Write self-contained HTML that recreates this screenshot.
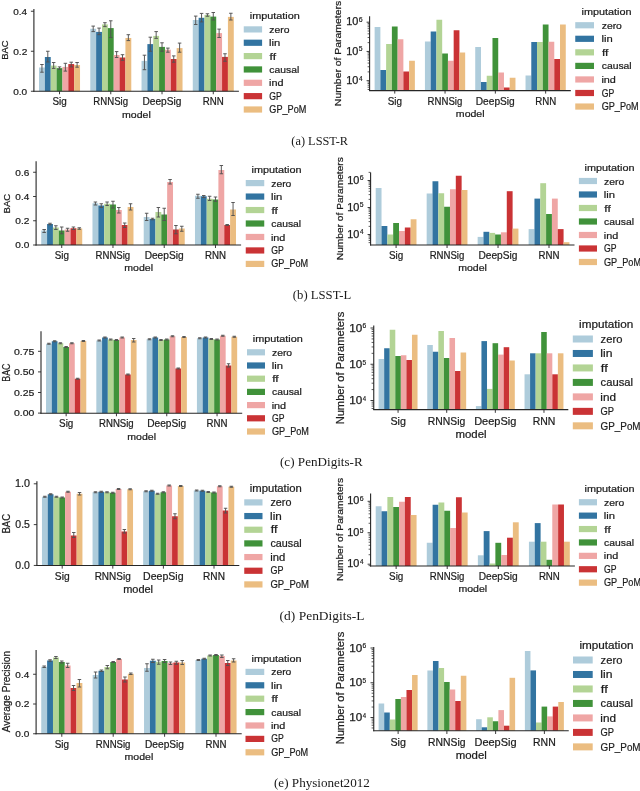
<!DOCTYPE html><html><head><meta charset="utf-8"><style>html,body{margin:0;padding:0;background:#fff;}svg{display:block;will-change:transform;}</style></head><body>
<svg width="640" height="791" viewBox="0 0 640 791">
<rect width="640" height="791" fill="#fff"/>
<rect x="39.02" y="67.50" width="5.86" height="23.75" fill="#aeccdb"/>
<rect x="44.88" y="57.00" width="5.86" height="34.25" fill="#3274a1"/>
<rect x="50.74" y="65.60" width="5.86" height="25.65" fill="#b3d495"/>
<rect x="56.60" y="68.10" width="5.86" height="23.15" fill="#40923a"/>
<rect x="62.45" y="66.90" width="5.86" height="24.35" fill="#efa6a5"/>
<rect x="68.31" y="64.06" width="5.86" height="27.19" fill="#ca3335"/>
<rect x="74.17" y="65.00" width="5.86" height="26.25" fill="#ebbd81"/>
<rect x="90.28" y="28.75" width="5.86" height="62.50" fill="#aeccdb"/>
<rect x="96.13" y="31.90" width="5.86" height="59.35" fill="#3274a1"/>
<rect x="101.99" y="24.40" width="5.86" height="66.85" fill="#b3d495"/>
<rect x="107.85" y="28.10" width="5.86" height="63.15" fill="#40923a"/>
<rect x="113.70" y="55.00" width="5.86" height="36.25" fill="#efa6a5"/>
<rect x="119.56" y="57.50" width="5.86" height="33.75" fill="#ca3335"/>
<rect x="125.42" y="38.00" width="5.86" height="53.25" fill="#ebbd81"/>
<rect x="141.53" y="60.90" width="5.86" height="30.35" fill="#aeccdb"/>
<rect x="147.38" y="44.10" width="5.86" height="47.15" fill="#3274a1"/>
<rect x="153.24" y="35.90" width="5.86" height="55.35" fill="#b3d495"/>
<rect x="159.10" y="46.90" width="5.86" height="44.35" fill="#40923a"/>
<rect x="164.95" y="49.70" width="5.86" height="41.55" fill="#efa6a5"/>
<rect x="170.81" y="59.00" width="5.86" height="32.25" fill="#ca3335"/>
<rect x="176.67" y="48.10" width="5.86" height="43.15" fill="#ebbd81"/>
<rect x="192.78" y="20.00" width="5.86" height="71.25" fill="#aeccdb"/>
<rect x="198.63" y="17.80" width="5.86" height="73.45" fill="#3274a1"/>
<rect x="204.49" y="15.00" width="5.86" height="76.25" fill="#b3d495"/>
<rect x="210.35" y="16.60" width="5.86" height="74.65" fill="#40923a"/>
<rect x="216.20" y="33.10" width="5.86" height="58.15" fill="#efa6a5"/>
<rect x="222.06" y="56.90" width="5.86" height="34.35" fill="#ca3335"/>
<rect x="227.92" y="16.90" width="5.86" height="74.35" fill="#ebbd81"/>
<path d="M41.95,64.50V72.20M40.20,64.50H43.71M40.20,72.20H43.71" stroke="#525252" stroke-width="0.95" fill="none"/>
<path d="M47.81,51.25V62.00M46.05,51.25H49.57M46.05,62.00H49.57" stroke="#525252" stroke-width="0.95" fill="none"/>
<path d="M53.67,62.50V68.40M51.91,62.50H55.43M51.91,68.40H55.43" stroke="#525252" stroke-width="0.95" fill="none"/>
<path d="M59.52,66.90V69.50M57.77,66.90H61.28M57.77,69.50H61.28" stroke="#525252" stroke-width="0.95" fill="none"/>
<path d="M65.38,63.30V71.10M63.62,63.30H67.14M63.62,71.10H67.14" stroke="#525252" stroke-width="0.95" fill="none"/>
<path d="M71.24,62.20V66.90M69.48,62.20H73.00M69.48,66.90H73.00" stroke="#525252" stroke-width="0.95" fill="none"/>
<path d="M77.10,62.50V67.20M75.34,62.50H78.85M75.34,67.20H78.85" stroke="#525252" stroke-width="0.95" fill="none"/>
<path d="M93.20,26.10V31.60M91.45,26.10H94.96M91.45,31.60H94.96" stroke="#525252" stroke-width="0.95" fill="none"/>
<path d="M99.06,28.10V34.70M97.30,28.10H100.82M97.30,34.70H100.82" stroke="#525252" stroke-width="0.95" fill="none"/>
<path d="M104.92,22.70V26.60M103.16,22.70H106.67M103.16,26.60H106.67" stroke="#525252" stroke-width="0.95" fill="none"/>
<path d="M110.78,20.80V37.50M109.02,20.80H112.53M109.02,37.50H112.53" stroke="#525252" stroke-width="0.95" fill="none"/>
<path d="M116.63,51.60V57.50M114.88,51.60H118.39M114.88,57.50H118.39" stroke="#525252" stroke-width="0.95" fill="none"/>
<path d="M122.49,54.70V60.30M120.73,54.70H124.25M120.73,60.30H124.25" stroke="#525252" stroke-width="0.95" fill="none"/>
<path d="M128.35,34.70V40.60M126.59,34.70H130.10M126.59,40.60H130.10" stroke="#525252" stroke-width="0.95" fill="none"/>
<path d="M144.45,55.20V69.70M142.70,55.20H146.21M142.70,69.70H146.21" stroke="#525252" stroke-width="0.95" fill="none"/>
<path d="M150.31,37.20V51.25M148.55,37.20H152.07M148.55,51.25H152.07" stroke="#525252" stroke-width="0.95" fill="none"/>
<path d="M156.17,31.60V38.40M154.41,31.60H157.93M154.41,38.40H157.93" stroke="#525252" stroke-width="0.95" fill="none"/>
<path d="M162.03,42.80V51.25M160.27,42.80H163.78M160.27,51.25H163.78" stroke="#525252" stroke-width="0.95" fill="none"/>
<path d="M167.88,48.10V52.20M166.12,48.10H169.64M166.12,52.20H169.64" stroke="#525252" stroke-width="0.95" fill="none"/>
<path d="M173.74,55.90V62.20M171.98,55.90H175.50M171.98,62.20H175.50" stroke="#525252" stroke-width="0.95" fill="none"/>
<path d="M179.60,43.10V52.20M177.84,43.10H181.35M177.84,52.20H181.35" stroke="#525252" stroke-width="0.95" fill="none"/>
<path d="M195.70,16.10V24.50M193.95,16.10H197.46M193.95,24.50H197.46" stroke="#525252" stroke-width="0.95" fill="none"/>
<path d="M201.56,13.40V21.90M199.80,13.40H203.32M199.80,21.90H203.32" stroke="#525252" stroke-width="0.95" fill="none"/>
<path d="M207.42,13.75V16.25M205.66,13.75H209.18M205.66,16.25H209.18" stroke="#525252" stroke-width="0.95" fill="none"/>
<path d="M213.28,12.50V20.00M211.52,12.50H215.03M211.52,20.00H215.03" stroke="#525252" stroke-width="0.95" fill="none"/>
<path d="M219.13,29.10V37.50M217.38,29.10H220.89M217.38,37.50H220.89" stroke="#525252" stroke-width="0.95" fill="none"/>
<path d="M224.99,53.75V61.25M223.23,53.75H226.75M223.23,61.25H226.75" stroke="#525252" stroke-width="0.95" fill="none"/>
<path d="M230.85,13.25V20.00M229.09,13.25H232.60M229.09,20.00H232.60" stroke="#525252" stroke-width="0.95" fill="none"/>
<line x1="33.90" y1="8.90" x2="33.90" y2="91.75" stroke="#262626" stroke-width="1.1"/>
<line x1="33.40" y1="91.25" x2="238.90" y2="91.25" stroke="#262626" stroke-width="1.1"/>
<line x1="59.52" y1="91.25" x2="59.52" y2="94.25" stroke="#262626" stroke-width="0.9"/>
<text x="52.47" y="105.25" font-size="10.0" textLength="14.26" lengthAdjust="spacingAndGlyphs" style="font-family:&quot;Liberation Sans&quot;, sans-serif" fill="#1c1c1c" stroke="#1c1c1c" stroke-width="0.22">Sig</text>
<line x1="110.78" y1="91.25" x2="110.78" y2="94.25" stroke="#262626" stroke-width="0.9"/>
<text x="93.34" y="105.25" font-size="10.0" textLength="34.69" lengthAdjust="spacingAndGlyphs" style="font-family:&quot;Liberation Sans&quot;, sans-serif" fill="#1c1c1c" stroke="#1c1c1c" stroke-width="0.22">RNNSig</text>
<line x1="162.03" y1="91.25" x2="162.03" y2="94.25" stroke="#262626" stroke-width="0.9"/>
<text x="142.45" y="105.25" font-size="10.0" textLength="38.96" lengthAdjust="spacingAndGlyphs" style="font-family:&quot;Liberation Sans&quot;, sans-serif" fill="#1c1c1c" stroke="#1c1c1c" stroke-width="0.22">DeepSig</text>
<line x1="213.28" y1="91.25" x2="213.28" y2="94.25" stroke="#262626" stroke-width="0.9"/>
<text x="202.79" y="105.25" font-size="10.0" textLength="20.99" lengthAdjust="spacingAndGlyphs" style="font-family:&quot;Liberation Sans&quot;, sans-serif" fill="#1c1c1c" stroke="#1c1c1c" stroke-width="0.22">RNN</text>
<text x="122.05" y="117.65" font-size="9.8" textLength="28.74" lengthAdjust="spacingAndGlyphs" style="font-family:&quot;Liberation Sans&quot;, sans-serif" fill="#1c1c1c" stroke="#1c1c1c" stroke-width="0.22">model</text>
<line x1="30.90" y1="91.25" x2="33.90" y2="91.25" stroke="#262626" stroke-width="0.9"/>
<text x="13.19" y="94.55" font-size="9.8" textLength="13.98" lengthAdjust="spacingAndGlyphs" style="font-family:&quot;Liberation Sans&quot;, sans-serif" fill="#1c1c1c" stroke="#1c1c1c" stroke-width="0.22">0.0</text>
<line x1="30.90" y1="51.25" x2="33.90" y2="51.25" stroke="#262626" stroke-width="0.9"/>
<text x="13.18" y="54.55" font-size="9.8" textLength="14.14" lengthAdjust="spacingAndGlyphs" style="font-family:&quot;Liberation Sans&quot;, sans-serif" fill="#1c1c1c" stroke="#1c1c1c" stroke-width="0.22">0.2</text>
<line x1="30.90" y1="11.25" x2="33.90" y2="11.25" stroke="#262626" stroke-width="0.9"/>
<text x="13.19" y="14.55" font-size="9.8" textLength="13.87" lengthAdjust="spacingAndGlyphs" style="font-family:&quot;Liberation Sans&quot;, sans-serif" fill="#1c1c1c" stroke="#1c1c1c" stroke-width="0.22">0.4</text>
<g transform="translate(7.50,59.00) rotate(-90)">
<text x="-0.75" y="0" font-size="9.6" textLength="19.29" lengthAdjust="spacingAndGlyphs" style="font-family:&quot;Liberation Sans&quot;, sans-serif" fill="#1c1c1c" stroke="#1c1c1c" stroke-width="0.22">BAC</text>
</g>
<text x="249.78" y="19.40" font-size="9.8" textLength="50.07" lengthAdjust="spacingAndGlyphs" style="font-family:&quot;Liberation Sans&quot;, sans-serif" fill="#1c1c1c" stroke="#1c1c1c" stroke-width="0.22">imputation</text>
<rect x="243.75" y="26.30" width="18.35" height="6.20" fill="#aeccdb"/>
<text x="269.37" y="32.95" font-size="9.8" textLength="20.16" lengthAdjust="spacingAndGlyphs" style="font-family:&quot;Liberation Sans&quot;, sans-serif" fill="#1c1c1c" stroke="#1c1c1c" stroke-width="0.22">zero</text>
<rect x="243.75" y="39.65" width="18.35" height="6.20" fill="#3274a1"/>
<text x="269.06" y="46.30" font-size="9.8" textLength="11.23" lengthAdjust="spacingAndGlyphs" style="font-family:&quot;Liberation Sans&quot;, sans-serif" fill="#1c1c1c" stroke="#1c1c1c" stroke-width="0.22">lin</text>
<rect x="243.75" y="53.00" width="18.35" height="6.20" fill="#b3d495"/>
<text x="269.61" y="59.65" font-size="9.8" textLength="6.48" lengthAdjust="spacingAndGlyphs" style="font-family:&quot;Liberation Sans&quot;, sans-serif" fill="#1c1c1c" stroke="#1c1c1c" stroke-width="0.22">ff</text>
<rect x="243.75" y="66.35" width="18.35" height="6.20" fill="#40923a"/>
<text x="269.37" y="73.00" font-size="9.8" textLength="29.92" lengthAdjust="spacingAndGlyphs" style="font-family:&quot;Liberation Sans&quot;, sans-serif" fill="#1c1c1c" stroke="#1c1c1c" stroke-width="0.22">causal</text>
<rect x="243.75" y="79.70" width="18.35" height="6.20" fill="#efa6a5"/>
<text x="269.08" y="86.35" font-size="9.8" textLength="14.47" lengthAdjust="spacingAndGlyphs" style="font-family:&quot;Liberation Sans&quot;, sans-serif" fill="#1c1c1c" stroke="#1c1c1c" stroke-width="0.22">ind</text>
<rect x="243.75" y="93.05" width="18.35" height="6.20" fill="#ca3335"/>
<text x="269.36" y="99.70" font-size="10.4" textLength="12.49" lengthAdjust="spacingAndGlyphs" style="font-family:&quot;Liberation Sans&quot;, sans-serif" fill="#1c1c1c" stroke="#1c1c1c" stroke-width="0.22">GP</text>
<rect x="243.75" y="106.40" width="18.35" height="6.20" fill="#ebbd81"/>
<text x="269.33" y="113.05" font-size="10.4" textLength="37.03" lengthAdjust="spacingAndGlyphs" style="font-family:&quot;Liberation Sans&quot;, sans-serif" fill="#1c1c1c" stroke="#1c1c1c" stroke-width="0.22">GP_PoM</text>
<rect x="374.63" y="27.00" width="5.75" height="63.60" fill="#aeccdb"/>
<rect x="380.38" y="70.00" width="5.75" height="20.60" fill="#3274a1"/>
<rect x="386.13" y="44.00" width="5.75" height="46.60" fill="#b3d495"/>
<rect x="391.88" y="26.50" width="5.75" height="64.10" fill="#40923a"/>
<rect x="397.62" y="39.25" width="5.75" height="51.35" fill="#efa6a5"/>
<rect x="403.37" y="71.50" width="5.75" height="19.10" fill="#ca3335"/>
<rect x="409.12" y="60.75" width="5.75" height="29.85" fill="#ebbd81"/>
<rect x="424.93" y="41.50" width="5.75" height="49.10" fill="#aeccdb"/>
<rect x="430.68" y="31.50" width="5.75" height="59.10" fill="#3274a1"/>
<rect x="436.43" y="19.75" width="5.75" height="70.85" fill="#b3d495"/>
<rect x="442.18" y="53.50" width="5.75" height="37.10" fill="#40923a"/>
<rect x="447.92" y="60.75" width="5.75" height="29.85" fill="#efa6a5"/>
<rect x="453.67" y="30.25" width="5.75" height="60.35" fill="#ca3335"/>
<rect x="459.42" y="52.50" width="5.75" height="38.10" fill="#ebbd81"/>
<rect x="475.23" y="47.00" width="5.75" height="43.60" fill="#aeccdb"/>
<rect x="480.98" y="82.00" width="5.75" height="8.60" fill="#3274a1"/>
<rect x="486.73" y="75.75" width="5.75" height="14.85" fill="#b3d495"/>
<rect x="492.48" y="38.00" width="5.75" height="52.60" fill="#40923a"/>
<rect x="498.22" y="72.50" width="5.75" height="18.10" fill="#efa6a5"/>
<rect x="503.97" y="87.50" width="5.75" height="3.10" fill="#ca3335"/>
<rect x="509.72" y="77.75" width="5.75" height="12.85" fill="#ebbd81"/>
<rect x="525.53" y="75.50" width="5.75" height="15.10" fill="#aeccdb"/>
<rect x="531.28" y="42.00" width="5.75" height="48.60" fill="#3274a1"/>
<rect x="537.03" y="42.00" width="5.75" height="48.60" fill="#b3d495"/>
<rect x="542.78" y="24.50" width="5.75" height="66.10" fill="#40923a"/>
<rect x="548.52" y="41.75" width="5.75" height="48.85" fill="#efa6a5"/>
<rect x="554.27" y="59.00" width="5.75" height="31.60" fill="#ca3335"/>
<rect x="560.02" y="24.50" width="5.75" height="66.10" fill="#ebbd81"/>
<line x1="369.60" y1="16.20" x2="369.60" y2="91.10" stroke="#262626" stroke-width="1.1"/>
<line x1="369.10" y1="90.60" x2="570.80" y2="90.60" stroke="#262626" stroke-width="1.1"/>
<line x1="394.75" y1="90.60" x2="394.75" y2="93.60" stroke="#262626" stroke-width="0.9"/>
<text x="387.69" y="104.60" font-size="10.0" textLength="14.26" lengthAdjust="spacingAndGlyphs" style="font-family:&quot;Liberation Sans&quot;, sans-serif" fill="#1c1c1c" stroke="#1c1c1c" stroke-width="0.22">Sig</text>
<line x1="445.05" y1="90.60" x2="445.05" y2="93.60" stroke="#262626" stroke-width="0.9"/>
<text x="427.62" y="104.60" font-size="10.0" textLength="34.69" lengthAdjust="spacingAndGlyphs" style="font-family:&quot;Liberation Sans&quot;, sans-serif" fill="#1c1c1c" stroke="#1c1c1c" stroke-width="0.22">RNNSig</text>
<line x1="495.35" y1="90.60" x2="495.35" y2="93.60" stroke="#262626" stroke-width="0.9"/>
<text x="475.78" y="104.60" font-size="10.0" textLength="38.96" lengthAdjust="spacingAndGlyphs" style="font-family:&quot;Liberation Sans&quot;, sans-serif" fill="#1c1c1c" stroke="#1c1c1c" stroke-width="0.22">DeepSig</text>
<line x1="545.65" y1="90.60" x2="545.65" y2="93.60" stroke="#262626" stroke-width="0.9"/>
<text x="535.16" y="104.60" font-size="10.0" textLength="20.99" lengthAdjust="spacingAndGlyphs" style="font-family:&quot;Liberation Sans&quot;, sans-serif" fill="#1c1c1c" stroke="#1c1c1c" stroke-width="0.22">RNN</text>
<text x="455.85" y="117.00" font-size="9.8" textLength="28.74" lengthAdjust="spacingAndGlyphs" style="font-family:&quot;Liberation Sans&quot;, sans-serif" fill="#1c1c1c" stroke="#1c1c1c" stroke-width="0.22">model</text>
<line x1="367.60" y1="89.51" x2="369.60" y2="89.51" stroke="#262626" stroke-width="0.75"/>
<line x1="367.60" y1="87.19" x2="369.60" y2="87.19" stroke="#262626" stroke-width="0.75"/>
<line x1="367.60" y1="85.23" x2="369.60" y2="85.23" stroke="#262626" stroke-width="0.75"/>
<line x1="367.60" y1="83.53" x2="369.60" y2="83.53" stroke="#262626" stroke-width="0.75"/>
<line x1="367.60" y1="82.04" x2="369.60" y2="82.04" stroke="#262626" stroke-width="0.75"/>
<line x1="366.60" y1="80.70" x2="369.60" y2="80.70" stroke="#262626" stroke-width="0.9"/>
<text x="346.28" y="83.75" font-size="10.3" textLength="12.12" lengthAdjust="spacingAndGlyphs" style="font-family:&quot;Liberation Sans&quot;, sans-serif" fill="#1c1c1c" stroke="#1c1c1c" stroke-width="0.25">10</text>
<text x="358.95" y="80.60" font-size="7.0" textLength="3.53" lengthAdjust="spacingAndGlyphs" style="font-family:&quot;Liberation Sans&quot;, sans-serif" fill="#1c1c1c" stroke="#1c1c1c" stroke-width="0.2">4</text>
<line x1="367.60" y1="71.89" x2="369.60" y2="71.89" stroke="#262626" stroke-width="0.75"/>
<line x1="367.60" y1="66.74" x2="369.60" y2="66.74" stroke="#262626" stroke-width="0.75"/>
<line x1="367.60" y1="63.09" x2="369.60" y2="63.09" stroke="#262626" stroke-width="0.75"/>
<line x1="367.60" y1="60.26" x2="369.60" y2="60.26" stroke="#262626" stroke-width="0.75"/>
<line x1="367.60" y1="57.94" x2="369.60" y2="57.94" stroke="#262626" stroke-width="0.75"/>
<line x1="367.60" y1="55.98" x2="369.60" y2="55.98" stroke="#262626" stroke-width="0.75"/>
<line x1="367.60" y1="54.28" x2="369.60" y2="54.28" stroke="#262626" stroke-width="0.75"/>
<line x1="367.60" y1="52.79" x2="369.60" y2="52.79" stroke="#262626" stroke-width="0.75"/>
<line x1="366.60" y1="51.45" x2="369.60" y2="51.45" stroke="#262626" stroke-width="0.9"/>
<text x="346.28" y="54.50" font-size="10.3" textLength="12.12" lengthAdjust="spacingAndGlyphs" style="font-family:&quot;Liberation Sans&quot;, sans-serif" fill="#1c1c1c" stroke="#1c1c1c" stroke-width="0.25">10</text>
<text x="358.81" y="51.35" font-size="7.0" textLength="3.79" lengthAdjust="spacingAndGlyphs" style="font-family:&quot;Liberation Sans&quot;, sans-serif" fill="#1c1c1c" stroke="#1c1c1c" stroke-width="0.2">5</text>
<line x1="367.60" y1="42.64" x2="369.60" y2="42.64" stroke="#262626" stroke-width="0.75"/>
<line x1="367.60" y1="37.49" x2="369.60" y2="37.49" stroke="#262626" stroke-width="0.75"/>
<line x1="367.60" y1="33.84" x2="369.60" y2="33.84" stroke="#262626" stroke-width="0.75"/>
<line x1="367.60" y1="31.01" x2="369.60" y2="31.01" stroke="#262626" stroke-width="0.75"/>
<line x1="367.60" y1="28.69" x2="369.60" y2="28.69" stroke="#262626" stroke-width="0.75"/>
<line x1="367.60" y1="26.73" x2="369.60" y2="26.73" stroke="#262626" stroke-width="0.75"/>
<line x1="367.60" y1="25.03" x2="369.60" y2="25.03" stroke="#262626" stroke-width="0.75"/>
<line x1="367.60" y1="23.54" x2="369.60" y2="23.54" stroke="#262626" stroke-width="0.75"/>
<line x1="366.60" y1="22.20" x2="369.60" y2="22.20" stroke="#262626" stroke-width="0.9"/>
<text x="346.28" y="25.25" font-size="10.3" textLength="12.12" lengthAdjust="spacingAndGlyphs" style="font-family:&quot;Liberation Sans&quot;, sans-serif" fill="#1c1c1c" stroke="#1c1c1c" stroke-width="0.25">10</text>
<text x="358.73" y="22.10" font-size="7.0" textLength="3.88" lengthAdjust="spacingAndGlyphs" style="font-family:&quot;Liberation Sans&quot;, sans-serif" fill="#1c1c1c" stroke="#1c1c1c" stroke-width="0.2">6</text>
<g transform="translate(341.00,105.30) rotate(-90)">
<text x="-0.83" y="0" font-size="9.8" textLength="105.30" lengthAdjust="spacingAndGlyphs" style="font-family:&quot;Liberation Sans&quot;, sans-serif" fill="#1c1c1c" stroke="#1c1c1c" stroke-width="0.22">Number of Parameters</text>
</g>
<text x="581.53" y="14.50" font-size="9.8" textLength="50.07" lengthAdjust="spacingAndGlyphs" style="font-family:&quot;Liberation Sans&quot;, sans-serif" fill="#1c1c1c" stroke="#1c1c1c" stroke-width="0.22">imputation</text>
<rect x="575.25" y="22.15" width="18.75" height="6.20" fill="#aeccdb"/>
<text x="601.72" y="28.80" font-size="9.8" textLength="20.16" lengthAdjust="spacingAndGlyphs" style="font-family:&quot;Liberation Sans&quot;, sans-serif" fill="#1c1c1c" stroke="#1c1c1c" stroke-width="0.22">zero</text>
<rect x="575.25" y="35.70" width="18.75" height="6.20" fill="#3274a1"/>
<text x="601.41" y="42.35" font-size="9.8" textLength="11.23" lengthAdjust="spacingAndGlyphs" style="font-family:&quot;Liberation Sans&quot;, sans-serif" fill="#1c1c1c" stroke="#1c1c1c" stroke-width="0.22">lin</text>
<rect x="575.25" y="49.25" width="18.75" height="6.20" fill="#b3d495"/>
<text x="601.96" y="55.90" font-size="9.8" textLength="6.48" lengthAdjust="spacingAndGlyphs" style="font-family:&quot;Liberation Sans&quot;, sans-serif" fill="#1c1c1c" stroke="#1c1c1c" stroke-width="0.22">ff</text>
<rect x="575.25" y="62.80" width="18.75" height="6.20" fill="#40923a"/>
<text x="601.72" y="69.45" font-size="9.8" textLength="29.92" lengthAdjust="spacingAndGlyphs" style="font-family:&quot;Liberation Sans&quot;, sans-serif" fill="#1c1c1c" stroke="#1c1c1c" stroke-width="0.22">causal</text>
<rect x="575.25" y="76.35" width="18.75" height="6.20" fill="#efa6a5"/>
<text x="601.43" y="83.00" font-size="9.8" textLength="14.47" lengthAdjust="spacingAndGlyphs" style="font-family:&quot;Liberation Sans&quot;, sans-serif" fill="#1c1c1c" stroke="#1c1c1c" stroke-width="0.22">ind</text>
<rect x="575.25" y="89.90" width="18.75" height="6.20" fill="#ca3335"/>
<text x="601.71" y="96.55" font-size="10.4" textLength="12.49" lengthAdjust="spacingAndGlyphs" style="font-family:&quot;Liberation Sans&quot;, sans-serif" fill="#1c1c1c" stroke="#1c1c1c" stroke-width="0.22">GP</text>
<rect x="575.25" y="103.45" width="18.75" height="6.20" fill="#ebbd81"/>
<text x="601.68" y="110.10" font-size="10.4" textLength="37.03" lengthAdjust="spacingAndGlyphs" style="font-family:&quot;Liberation Sans&quot;, sans-serif" fill="#1c1c1c" stroke="#1c1c1c" stroke-width="0.22">GP_PoM</text>
<rect x="41.23" y="230.50" width="5.86" height="14.50" fill="#aeccdb"/>
<rect x="47.08" y="224.00" width="5.86" height="21.00" fill="#3274a1"/>
<rect x="52.94" y="227.50" width="5.86" height="17.50" fill="#b3d495"/>
<rect x="58.80" y="230.50" width="5.86" height="14.50" fill="#40923a"/>
<rect x="64.65" y="229.50" width="5.86" height="15.50" fill="#efa6a5"/>
<rect x="70.51" y="228.25" width="5.86" height="16.75" fill="#ca3335"/>
<rect x="76.37" y="228.50" width="5.86" height="16.50" fill="#ebbd81"/>
<rect x="92.47" y="203.25" width="5.86" height="41.75" fill="#aeccdb"/>
<rect x="98.33" y="205.50" width="5.86" height="39.50" fill="#3274a1"/>
<rect x="104.19" y="203.75" width="5.86" height="41.25" fill="#b3d495"/>
<rect x="110.05" y="204.50" width="5.86" height="40.50" fill="#40923a"/>
<rect x="115.90" y="210.00" width="5.86" height="35.00" fill="#efa6a5"/>
<rect x="121.76" y="225.00" width="5.86" height="20.00" fill="#ca3335"/>
<rect x="127.62" y="207.00" width="5.86" height="38.00" fill="#ebbd81"/>
<rect x="143.72" y="217.00" width="5.86" height="28.00" fill="#aeccdb"/>
<rect x="149.58" y="219.00" width="5.86" height="26.00" fill="#3274a1"/>
<rect x="155.44" y="212.00" width="5.86" height="33.00" fill="#b3d495"/>
<rect x="161.30" y="214.50" width="5.86" height="30.50" fill="#40923a"/>
<rect x="167.15" y="182.00" width="5.86" height="63.00" fill="#efa6a5"/>
<rect x="173.01" y="229.50" width="5.86" height="15.50" fill="#ca3335"/>
<rect x="178.87" y="228.50" width="5.86" height="16.50" fill="#ebbd81"/>
<rect x="194.97" y="195.75" width="5.86" height="49.25" fill="#aeccdb"/>
<rect x="200.83" y="196.25" width="5.86" height="48.75" fill="#3274a1"/>
<rect x="206.69" y="198.75" width="5.86" height="46.25" fill="#b3d495"/>
<rect x="212.55" y="199.50" width="5.86" height="45.50" fill="#40923a"/>
<rect x="218.40" y="170.00" width="5.86" height="75.00" fill="#efa6a5"/>
<rect x="224.26" y="225.00" width="5.86" height="20.00" fill="#ca3335"/>
<rect x="230.12" y="209.50" width="5.86" height="35.50" fill="#ebbd81"/>
<path d="M44.15,229.50V232.50M42.40,229.50H45.91M42.40,232.50H45.91" stroke="#525252" stroke-width="0.95" fill="none"/>
<path d="M50.01,223.25V224.75M48.25,223.25H51.77M48.25,224.75H51.77" stroke="#525252" stroke-width="0.95" fill="none"/>
<path d="M55.87,225.75V229.50M54.11,225.75H57.63M54.11,229.50H57.63" stroke="#525252" stroke-width="0.95" fill="none"/>
<path d="M61.73,227.00V233.75M59.97,227.00H63.48M59.97,233.75H63.48" stroke="#525252" stroke-width="0.95" fill="none"/>
<path d="M67.58,228.25V231.25M65.83,228.25H69.34M65.83,231.25H69.34" stroke="#525252" stroke-width="0.95" fill="none"/>
<path d="M73.44,227.00V229.50M71.68,227.00H75.20M71.68,229.50H75.20" stroke="#525252" stroke-width="0.95" fill="none"/>
<path d="M79.30,227.75V229.25M77.54,227.75H81.05M77.54,229.25H81.05" stroke="#525252" stroke-width="0.95" fill="none"/>
<path d="M95.40,202.00V205.00M93.65,202.00H97.16M93.65,205.00H97.16" stroke="#525252" stroke-width="0.95" fill="none"/>
<path d="M101.26,203.75V207.50M99.50,203.75H103.02M99.50,207.50H103.02" stroke="#525252" stroke-width="0.95" fill="none"/>
<path d="M107.12,202.00V205.50M105.36,202.00H108.87M105.36,205.50H108.87" stroke="#525252" stroke-width="0.95" fill="none"/>
<path d="M112.97,201.25V208.00M111.22,201.25H114.73M111.22,208.00H114.73" stroke="#525252" stroke-width="0.95" fill="none"/>
<path d="M118.83,207.50V213.00M117.08,207.50H120.59M117.08,213.00H120.59" stroke="#525252" stroke-width="0.95" fill="none"/>
<path d="M124.69,223.00V227.50M122.93,223.00H126.45M122.93,227.50H126.45" stroke="#525252" stroke-width="0.95" fill="none"/>
<path d="M130.55,203.75V210.00M128.79,203.75H132.30M128.79,210.00H132.30" stroke="#525252" stroke-width="0.95" fill="none"/>
<path d="M146.65,213.25V220.50M144.90,213.25H148.41M144.90,220.50H148.41" stroke="#525252" stroke-width="0.95" fill="none"/>
<path d="M152.51,218.25V219.75M150.75,218.25H154.27M150.75,219.75H154.27" stroke="#525252" stroke-width="0.95" fill="none"/>
<path d="M158.37,207.50V217.00M156.61,207.50H160.12M156.61,217.00H160.12" stroke="#525252" stroke-width="0.95" fill="none"/>
<path d="M164.22,208.25V220.50M162.47,208.25H165.98M162.47,220.50H165.98" stroke="#525252" stroke-width="0.95" fill="none"/>
<path d="M170.08,179.50V184.00M168.32,179.50H171.84M168.32,184.00H171.84" stroke="#525252" stroke-width="0.95" fill="none"/>
<path d="M175.94,225.50V233.75M174.18,225.50H177.70M174.18,233.75H177.70" stroke="#525252" stroke-width="0.95" fill="none"/>
<path d="M181.80,226.25V231.25M180.04,226.25H183.55M180.04,231.25H183.55" stroke="#525252" stroke-width="0.95" fill="none"/>
<path d="M197.90,194.25V198.25M196.15,194.25H199.66M196.15,198.25H199.66" stroke="#525252" stroke-width="0.95" fill="none"/>
<path d="M203.76,195.50V197.50M202.00,195.50H205.52M202.00,197.50H205.52" stroke="#525252" stroke-width="0.95" fill="none"/>
<path d="M209.62,196.25V200.50M207.86,196.25H211.38M207.86,200.50H211.38" stroke="#525252" stroke-width="0.95" fill="none"/>
<path d="M215.47,197.00V201.25M213.72,197.00H217.23M213.72,201.25H217.23" stroke="#525252" stroke-width="0.95" fill="none"/>
<path d="M221.33,165.50V173.75M219.57,165.50H223.09M219.57,173.75H223.09" stroke="#525252" stroke-width="0.95" fill="none"/>
<path d="M227.19,224.50V225.50M225.43,224.50H228.95M225.43,225.50H228.95" stroke="#525252" stroke-width="0.95" fill="none"/>
<path d="M233.05,202.50V215.50M231.29,202.50H234.80M231.29,215.50H234.80" stroke="#525252" stroke-width="0.95" fill="none"/>
<line x1="36.10" y1="161.25" x2="36.10" y2="245.50" stroke="#262626" stroke-width="1.1"/>
<line x1="35.60" y1="245.00" x2="241.10" y2="245.00" stroke="#262626" stroke-width="1.1"/>
<line x1="61.73" y1="245.00" x2="61.73" y2="248.00" stroke="#262626" stroke-width="0.9"/>
<text x="54.67" y="259.00" font-size="10.0" textLength="14.26" lengthAdjust="spacingAndGlyphs" style="font-family:&quot;Liberation Sans&quot;, sans-serif" fill="#1c1c1c" stroke="#1c1c1c" stroke-width="0.22">Sig</text>
<line x1="112.97" y1="245.00" x2="112.97" y2="248.00" stroke="#262626" stroke-width="0.9"/>
<text x="95.54" y="259.00" font-size="10.0" textLength="34.69" lengthAdjust="spacingAndGlyphs" style="font-family:&quot;Liberation Sans&quot;, sans-serif" fill="#1c1c1c" stroke="#1c1c1c" stroke-width="0.22">RNNSig</text>
<line x1="164.22" y1="245.00" x2="164.22" y2="248.00" stroke="#262626" stroke-width="0.9"/>
<text x="144.65" y="259.00" font-size="10.0" textLength="38.96" lengthAdjust="spacingAndGlyphs" style="font-family:&quot;Liberation Sans&quot;, sans-serif" fill="#1c1c1c" stroke="#1c1c1c" stroke-width="0.22">DeepSig</text>
<line x1="215.47" y1="245.00" x2="215.47" y2="248.00" stroke="#262626" stroke-width="0.9"/>
<text x="204.99" y="259.00" font-size="10.0" textLength="20.99" lengthAdjust="spacingAndGlyphs" style="font-family:&quot;Liberation Sans&quot;, sans-serif" fill="#1c1c1c" stroke="#1c1c1c" stroke-width="0.22">RNN</text>
<text x="124.25" y="271.40" font-size="9.8" textLength="28.74" lengthAdjust="spacingAndGlyphs" style="font-family:&quot;Liberation Sans&quot;, sans-serif" fill="#1c1c1c" stroke="#1c1c1c" stroke-width="0.22">model</text>
<line x1="33.10" y1="245.00" x2="36.10" y2="245.00" stroke="#262626" stroke-width="0.9"/>
<text x="15.39" y="248.30" font-size="9.8" textLength="13.98" lengthAdjust="spacingAndGlyphs" style="font-family:&quot;Liberation Sans&quot;, sans-serif" fill="#1c1c1c" stroke="#1c1c1c" stroke-width="0.22">0.0</text>
<line x1="33.10" y1="220.75" x2="36.10" y2="220.75" stroke="#262626" stroke-width="0.9"/>
<text x="15.38" y="224.05" font-size="9.8" textLength="14.14" lengthAdjust="spacingAndGlyphs" style="font-family:&quot;Liberation Sans&quot;, sans-serif" fill="#1c1c1c" stroke="#1c1c1c" stroke-width="0.22">0.2</text>
<line x1="33.10" y1="196.50" x2="36.10" y2="196.50" stroke="#262626" stroke-width="0.9"/>
<text x="15.39" y="199.80" font-size="9.8" textLength="13.87" lengthAdjust="spacingAndGlyphs" style="font-family:&quot;Liberation Sans&quot;, sans-serif" fill="#1c1c1c" stroke="#1c1c1c" stroke-width="0.22">0.4</text>
<line x1="33.10" y1="172.25" x2="36.10" y2="172.25" stroke="#262626" stroke-width="0.9"/>
<text x="15.38" y="175.55" font-size="9.8" textLength="14.03" lengthAdjust="spacingAndGlyphs" style="font-family:&quot;Liberation Sans&quot;, sans-serif" fill="#1c1c1c" stroke="#1c1c1c" stroke-width="0.22">0.6</text>
<g transform="translate(9.60,212.70) rotate(-90)">
<text x="-0.77" y="0" font-size="9.8" textLength="19.71" lengthAdjust="spacingAndGlyphs" style="font-family:&quot;Liberation Sans&quot;, sans-serif" fill="#1c1c1c" stroke="#1c1c1c" stroke-width="0.22">BAC</text>
</g>
<text x="251.53" y="173.00" font-size="9.8" textLength="50.07" lengthAdjust="spacingAndGlyphs" style="font-family:&quot;Liberation Sans&quot;, sans-serif" fill="#1c1c1c" stroke="#1c1c1c" stroke-width="0.22">imputation</text>
<rect x="245.75" y="180.00" width="18.50" height="6.20" fill="#aeccdb"/>
<text x="271.22" y="186.65" font-size="9.8" textLength="20.16" lengthAdjust="spacingAndGlyphs" style="font-family:&quot;Liberation Sans&quot;, sans-serif" fill="#1c1c1c" stroke="#1c1c1c" stroke-width="0.22">zero</text>
<rect x="245.75" y="193.47" width="18.50" height="6.20" fill="#3274a1"/>
<text x="270.91" y="200.12" font-size="9.8" textLength="11.23" lengthAdjust="spacingAndGlyphs" style="font-family:&quot;Liberation Sans&quot;, sans-serif" fill="#1c1c1c" stroke="#1c1c1c" stroke-width="0.22">lin</text>
<rect x="245.75" y="206.94" width="18.50" height="6.20" fill="#b3d495"/>
<text x="271.46" y="213.59" font-size="9.8" textLength="6.48" lengthAdjust="spacingAndGlyphs" style="font-family:&quot;Liberation Sans&quot;, sans-serif" fill="#1c1c1c" stroke="#1c1c1c" stroke-width="0.22">ff</text>
<rect x="245.75" y="220.41" width="18.50" height="6.20" fill="#40923a"/>
<text x="271.22" y="227.06" font-size="9.8" textLength="29.92" lengthAdjust="spacingAndGlyphs" style="font-family:&quot;Liberation Sans&quot;, sans-serif" fill="#1c1c1c" stroke="#1c1c1c" stroke-width="0.22">causal</text>
<rect x="245.75" y="233.88" width="18.50" height="6.20" fill="#efa6a5"/>
<text x="270.93" y="240.53" font-size="9.8" textLength="14.47" lengthAdjust="spacingAndGlyphs" style="font-family:&quot;Liberation Sans&quot;, sans-serif" fill="#1c1c1c" stroke="#1c1c1c" stroke-width="0.22">ind</text>
<rect x="245.75" y="247.35" width="18.50" height="6.20" fill="#ca3335"/>
<text x="271.21" y="254.00" font-size="10.4" textLength="12.49" lengthAdjust="spacingAndGlyphs" style="font-family:&quot;Liberation Sans&quot;, sans-serif" fill="#1c1c1c" stroke="#1c1c1c" stroke-width="0.22">GP</text>
<rect x="245.75" y="260.82" width="18.50" height="6.20" fill="#ebbd81"/>
<text x="271.18" y="267.47" font-size="10.4" textLength="37.03" lengthAdjust="spacingAndGlyphs" style="font-family:&quot;Liberation Sans&quot;, sans-serif" fill="#1c1c1c" stroke="#1c1c1c" stroke-width="0.22">GP_PoM</text>
<rect x="375.70" y="188.00" width="5.83" height="57.00" fill="#aeccdb"/>
<rect x="381.52" y="226.00" width="5.83" height="19.00" fill="#3274a1"/>
<rect x="387.35" y="234.50" width="5.83" height="10.50" fill="#b3d495"/>
<rect x="393.17" y="223.00" width="5.83" height="22.00" fill="#40923a"/>
<rect x="399.00" y="231.00" width="5.83" height="14.00" fill="#efa6a5"/>
<rect x="404.83" y="227.50" width="5.83" height="17.50" fill="#ca3335"/>
<rect x="410.65" y="219.25" width="5.83" height="25.75" fill="#ebbd81"/>
<rect x="426.67" y="193.50" width="5.83" height="51.50" fill="#aeccdb"/>
<rect x="432.50" y="181.25" width="5.83" height="63.75" fill="#3274a1"/>
<rect x="438.32" y="193.25" width="5.83" height="51.75" fill="#b3d495"/>
<rect x="444.15" y="206.75" width="5.83" height="38.25" fill="#40923a"/>
<rect x="449.98" y="189.25" width="5.83" height="55.75" fill="#efa6a5"/>
<rect x="455.80" y="175.75" width="5.83" height="69.25" fill="#ca3335"/>
<rect x="461.63" y="190.00" width="5.83" height="55.00" fill="#ebbd81"/>
<rect x="477.65" y="236.90" width="5.83" height="8.10" fill="#aeccdb"/>
<rect x="483.47" y="231.80" width="5.83" height="13.20" fill="#3274a1"/>
<rect x="489.30" y="232.90" width="5.83" height="12.10" fill="#b3d495"/>
<rect x="495.12" y="234.50" width="5.83" height="10.50" fill="#40923a"/>
<rect x="500.95" y="232.30" width="5.83" height="12.70" fill="#efa6a5"/>
<rect x="506.78" y="191.20" width="5.83" height="53.80" fill="#ca3335"/>
<rect x="512.60" y="228.60" width="5.83" height="16.40" fill="#ebbd81"/>
<rect x="528.62" y="229.10" width="5.83" height="15.90" fill="#aeccdb"/>
<rect x="534.45" y="198.60" width="5.83" height="46.40" fill="#3274a1"/>
<rect x="540.27" y="183.20" width="5.83" height="61.80" fill="#b3d495"/>
<rect x="546.10" y="214.00" width="5.83" height="31.00" fill="#40923a"/>
<rect x="551.93" y="198.60" width="5.83" height="46.40" fill="#efa6a5"/>
<rect x="557.75" y="229.10" width="5.83" height="15.90" fill="#ca3335"/>
<rect x="563.58" y="242.20" width="5.83" height="2.80" fill="#ebbd81"/>
<line x1="370.60" y1="172.50" x2="370.60" y2="245.50" stroke="#262626" stroke-width="1.1"/>
<line x1="370.10" y1="245.00" x2="574.50" y2="245.00" stroke="#262626" stroke-width="1.1"/>
<line x1="396.09" y1="245.00" x2="396.09" y2="248.00" stroke="#262626" stroke-width="0.9"/>
<text x="389.03" y="259.00" font-size="10.0" textLength="14.26" lengthAdjust="spacingAndGlyphs" style="font-family:&quot;Liberation Sans&quot;, sans-serif" fill="#1c1c1c" stroke="#1c1c1c" stroke-width="0.22">Sig</text>
<line x1="447.06" y1="245.00" x2="447.06" y2="248.00" stroke="#262626" stroke-width="0.9"/>
<text x="429.63" y="259.00" font-size="10.0" textLength="34.69" lengthAdjust="spacingAndGlyphs" style="font-family:&quot;Liberation Sans&quot;, sans-serif" fill="#1c1c1c" stroke="#1c1c1c" stroke-width="0.22">RNNSig</text>
<line x1="498.04" y1="245.00" x2="498.04" y2="248.00" stroke="#262626" stroke-width="0.9"/>
<text x="478.46" y="259.00" font-size="10.0" textLength="38.96" lengthAdjust="spacingAndGlyphs" style="font-family:&quot;Liberation Sans&quot;, sans-serif" fill="#1c1c1c" stroke="#1c1c1c" stroke-width="0.22">DeepSig</text>
<line x1="549.01" y1="245.00" x2="549.01" y2="248.00" stroke="#262626" stroke-width="0.9"/>
<text x="538.53" y="259.00" font-size="10.0" textLength="20.99" lengthAdjust="spacingAndGlyphs" style="font-family:&quot;Liberation Sans&quot;, sans-serif" fill="#1c1c1c" stroke="#1c1c1c" stroke-width="0.22">RNN</text>
<text x="458.20" y="271.40" font-size="9.8" textLength="28.74" lengthAdjust="spacingAndGlyphs" style="font-family:&quot;Liberation Sans&quot;, sans-serif" fill="#1c1c1c" stroke="#1c1c1c" stroke-width="0.22">model</text>
<line x1="368.60" y1="242.63" x2="370.60" y2="242.63" stroke="#262626" stroke-width="0.75"/>
<line x1="368.60" y1="240.49" x2="370.60" y2="240.49" stroke="#262626" stroke-width="0.75"/>
<line x1="368.60" y1="238.68" x2="370.60" y2="238.68" stroke="#262626" stroke-width="0.75"/>
<line x1="368.60" y1="237.12" x2="370.60" y2="237.12" stroke="#262626" stroke-width="0.75"/>
<line x1="368.60" y1="235.74" x2="370.60" y2="235.74" stroke="#262626" stroke-width="0.75"/>
<line x1="367.60" y1="234.50" x2="370.60" y2="234.50" stroke="#262626" stroke-width="0.9"/>
<text x="347.28" y="237.55" font-size="10.3" textLength="12.12" lengthAdjust="spacingAndGlyphs" style="font-family:&quot;Liberation Sans&quot;, sans-serif" fill="#1c1c1c" stroke="#1c1c1c" stroke-width="0.25">10</text>
<text x="359.95" y="234.40" font-size="7.0" textLength="3.53" lengthAdjust="spacingAndGlyphs" style="font-family:&quot;Liberation Sans&quot;, sans-serif" fill="#1c1c1c" stroke="#1c1c1c" stroke-width="0.2">4</text>
<line x1="368.60" y1="226.37" x2="370.60" y2="226.37" stroke="#262626" stroke-width="0.75"/>
<line x1="368.60" y1="221.62" x2="370.60" y2="221.62" stroke="#262626" stroke-width="0.75"/>
<line x1="368.60" y1="218.24" x2="370.60" y2="218.24" stroke="#262626" stroke-width="0.75"/>
<line x1="368.60" y1="215.63" x2="370.60" y2="215.63" stroke="#262626" stroke-width="0.75"/>
<line x1="368.60" y1="213.49" x2="370.60" y2="213.49" stroke="#262626" stroke-width="0.75"/>
<line x1="368.60" y1="211.68" x2="370.60" y2="211.68" stroke="#262626" stroke-width="0.75"/>
<line x1="368.60" y1="210.12" x2="370.60" y2="210.12" stroke="#262626" stroke-width="0.75"/>
<line x1="368.60" y1="208.74" x2="370.60" y2="208.74" stroke="#262626" stroke-width="0.75"/>
<line x1="367.60" y1="207.50" x2="370.60" y2="207.50" stroke="#262626" stroke-width="0.9"/>
<text x="347.28" y="210.55" font-size="10.3" textLength="12.12" lengthAdjust="spacingAndGlyphs" style="font-family:&quot;Liberation Sans&quot;, sans-serif" fill="#1c1c1c" stroke="#1c1c1c" stroke-width="0.25">10</text>
<text x="359.81" y="207.40" font-size="7.0" textLength="3.79" lengthAdjust="spacingAndGlyphs" style="font-family:&quot;Liberation Sans&quot;, sans-serif" fill="#1c1c1c" stroke="#1c1c1c" stroke-width="0.2">5</text>
<line x1="368.60" y1="199.37" x2="370.60" y2="199.37" stroke="#262626" stroke-width="0.75"/>
<line x1="368.60" y1="194.62" x2="370.60" y2="194.62" stroke="#262626" stroke-width="0.75"/>
<line x1="368.60" y1="191.24" x2="370.60" y2="191.24" stroke="#262626" stroke-width="0.75"/>
<line x1="368.60" y1="188.63" x2="370.60" y2="188.63" stroke="#262626" stroke-width="0.75"/>
<line x1="368.60" y1="186.49" x2="370.60" y2="186.49" stroke="#262626" stroke-width="0.75"/>
<line x1="368.60" y1="184.68" x2="370.60" y2="184.68" stroke="#262626" stroke-width="0.75"/>
<line x1="368.60" y1="183.12" x2="370.60" y2="183.12" stroke="#262626" stroke-width="0.75"/>
<line x1="368.60" y1="181.74" x2="370.60" y2="181.74" stroke="#262626" stroke-width="0.75"/>
<line x1="367.60" y1="180.50" x2="370.60" y2="180.50" stroke="#262626" stroke-width="0.9"/>
<text x="347.28" y="183.55" font-size="10.3" textLength="12.12" lengthAdjust="spacingAndGlyphs" style="font-family:&quot;Liberation Sans&quot;, sans-serif" fill="#1c1c1c" stroke="#1c1c1c" stroke-width="0.25">10</text>
<text x="359.73" y="180.40" font-size="7.0" textLength="3.88" lengthAdjust="spacingAndGlyphs" style="font-family:&quot;Liberation Sans&quot;, sans-serif" fill="#1c1c1c" stroke="#1c1c1c" stroke-width="0.2">6</text>
<line x1="368.60" y1="172.37" x2="370.60" y2="172.37" stroke="#262626" stroke-width="0.75"/>
<g transform="translate(342.90,259.40) rotate(-90)">
<text x="-0.81" y="0" font-size="9.8" textLength="102.97" lengthAdjust="spacingAndGlyphs" style="font-family:&quot;Liberation Sans&quot;, sans-serif" fill="#1c1c1c" stroke="#1c1c1c" stroke-width="0.22">Number of Parameters</text>
</g>
<text x="584.48" y="171.25" font-size="9.8" textLength="50.07" lengthAdjust="spacingAndGlyphs" style="font-family:&quot;Liberation Sans&quot;, sans-serif" fill="#1c1c1c" stroke="#1c1c1c" stroke-width="0.22">imputation</text>
<rect x="578.90" y="177.90" width="18.10" height="6.20" fill="#aeccdb"/>
<text x="604.07" y="184.55" font-size="9.8" textLength="20.16" lengthAdjust="spacingAndGlyphs" style="font-family:&quot;Liberation Sans&quot;, sans-serif" fill="#1c1c1c" stroke="#1c1c1c" stroke-width="0.22">zero</text>
<rect x="578.90" y="191.40" width="18.10" height="6.20" fill="#3274a1"/>
<text x="603.76" y="198.05" font-size="9.8" textLength="11.23" lengthAdjust="spacingAndGlyphs" style="font-family:&quot;Liberation Sans&quot;, sans-serif" fill="#1c1c1c" stroke="#1c1c1c" stroke-width="0.22">lin</text>
<rect x="578.90" y="204.90" width="18.10" height="6.20" fill="#b3d495"/>
<text x="604.31" y="211.55" font-size="9.8" textLength="6.48" lengthAdjust="spacingAndGlyphs" style="font-family:&quot;Liberation Sans&quot;, sans-serif" fill="#1c1c1c" stroke="#1c1c1c" stroke-width="0.22">ff</text>
<rect x="578.90" y="218.40" width="18.10" height="6.20" fill="#40923a"/>
<text x="604.07" y="225.05" font-size="9.8" textLength="29.92" lengthAdjust="spacingAndGlyphs" style="font-family:&quot;Liberation Sans&quot;, sans-serif" fill="#1c1c1c" stroke="#1c1c1c" stroke-width="0.22">causal</text>
<rect x="578.90" y="231.90" width="18.10" height="6.20" fill="#efa6a5"/>
<text x="603.78" y="238.55" font-size="9.8" textLength="14.47" lengthAdjust="spacingAndGlyphs" style="font-family:&quot;Liberation Sans&quot;, sans-serif" fill="#1c1c1c" stroke="#1c1c1c" stroke-width="0.22">ind</text>
<rect x="578.90" y="245.40" width="18.10" height="6.20" fill="#ca3335"/>
<text x="604.06" y="252.05" font-size="10.4" textLength="12.49" lengthAdjust="spacingAndGlyphs" style="font-family:&quot;Liberation Sans&quot;, sans-serif" fill="#1c1c1c" stroke="#1c1c1c" stroke-width="0.22">GP</text>
<rect x="578.90" y="258.90" width="18.10" height="6.20" fill="#ebbd81"/>
<text x="604.03" y="265.55" font-size="10.4" textLength="37.03" lengthAdjust="spacingAndGlyphs" style="font-family:&quot;Liberation Sans&quot;, sans-serif" fill="#1c1c1c" stroke="#1c1c1c" stroke-width="0.22">GP_PoM</text>
<rect x="46.03" y="343.75" width="5.75" height="69.50" fill="#aeccdb"/>
<rect x="51.78" y="341.25" width="5.75" height="72.00" fill="#3274a1"/>
<rect x="57.53" y="343.25" width="5.75" height="70.00" fill="#b3d495"/>
<rect x="63.28" y="347.00" width="5.75" height="66.25" fill="#40923a"/>
<rect x="69.02" y="343.25" width="5.75" height="70.00" fill="#efa6a5"/>
<rect x="74.77" y="378.75" width="5.75" height="34.50" fill="#ca3335"/>
<rect x="80.52" y="341.00" width="5.75" height="72.25" fill="#ebbd81"/>
<rect x="96.33" y="340.50" width="5.75" height="72.75" fill="#aeccdb"/>
<rect x="102.08" y="337.50" width="5.75" height="75.75" fill="#3274a1"/>
<rect x="107.83" y="339.50" width="5.75" height="73.75" fill="#b3d495"/>
<rect x="113.58" y="340.00" width="5.75" height="73.25" fill="#40923a"/>
<rect x="119.32" y="337.50" width="5.75" height="75.75" fill="#efa6a5"/>
<rect x="125.07" y="374.50" width="5.75" height="38.75" fill="#ca3335"/>
<rect x="130.82" y="340.00" width="5.75" height="73.25" fill="#ebbd81"/>
<rect x="146.63" y="339.25" width="5.75" height="74.00" fill="#aeccdb"/>
<rect x="152.38" y="337.50" width="5.75" height="75.75" fill="#3274a1"/>
<rect x="158.13" y="340.00" width="5.75" height="73.25" fill="#b3d495"/>
<rect x="163.88" y="339.50" width="5.75" height="73.75" fill="#40923a"/>
<rect x="169.62" y="336.25" width="5.75" height="77.00" fill="#efa6a5"/>
<rect x="175.37" y="368.50" width="5.75" height="44.75" fill="#ca3335"/>
<rect x="181.12" y="337.00" width="5.75" height="76.25" fill="#ebbd81"/>
<rect x="196.93" y="338.25" width="5.75" height="75.00" fill="#aeccdb"/>
<rect x="202.68" y="337.50" width="5.75" height="75.75" fill="#3274a1"/>
<rect x="208.43" y="339.00" width="5.75" height="74.25" fill="#b3d495"/>
<rect x="214.18" y="339.50" width="5.75" height="73.75" fill="#40923a"/>
<rect x="219.92" y="335.75" width="5.75" height="77.50" fill="#efa6a5"/>
<rect x="225.67" y="365.50" width="5.75" height="47.75" fill="#ca3335"/>
<rect x="231.42" y="336.75" width="5.75" height="76.50" fill="#ebbd81"/>
<path d="M48.90,343.25V344.25M47.18,343.25H50.63M47.18,344.25H50.63" stroke="#525252" stroke-width="0.95" fill="none"/>
<path d="M54.65,340.75V341.75M52.93,340.75H56.38M52.93,341.75H56.38" stroke="#525252" stroke-width="0.95" fill="none"/>
<path d="M60.40,342.75V343.75M58.68,342.75H62.13M58.68,343.75H62.13" stroke="#525252" stroke-width="0.95" fill="none"/>
<path d="M66.15,346.50V347.50M64.43,346.50H67.87M64.43,347.50H67.87" stroke="#525252" stroke-width="0.95" fill="none"/>
<path d="M71.90,342.75V343.75M70.17,342.75H73.62M70.17,343.75H73.62" stroke="#525252" stroke-width="0.95" fill="none"/>
<path d="M77.65,378.25V379.25M75.92,378.25H79.37M75.92,379.25H79.37" stroke="#525252" stroke-width="0.95" fill="none"/>
<path d="M83.40,340.50V341.50M81.67,340.50H85.12M81.67,341.50H85.12" stroke="#525252" stroke-width="0.95" fill="none"/>
<path d="M99.20,340.00V341.00M97.48,340.00H100.93M97.48,341.00H100.93" stroke="#525252" stroke-width="0.95" fill="none"/>
<path d="M104.95,337.00V338.00M103.23,337.00H106.68M103.23,338.00H106.68" stroke="#525252" stroke-width="0.95" fill="none"/>
<path d="M110.70,339.00V340.00M108.98,339.00H112.43M108.98,340.00H112.43" stroke="#525252" stroke-width="0.95" fill="none"/>
<path d="M116.45,339.50V340.50M114.73,339.50H118.17M114.73,340.50H118.17" stroke="#525252" stroke-width="0.95" fill="none"/>
<path d="M122.20,337.00V338.00M120.47,337.00H123.92M120.47,338.00H123.92" stroke="#525252" stroke-width="0.95" fill="none"/>
<path d="M127.95,374.00V375.00M126.22,374.00H129.67M126.22,375.00H129.67" stroke="#525252" stroke-width="0.95" fill="none"/>
<path d="M133.70,338.50V342.00M131.97,338.50H135.42M131.97,342.00H135.42" stroke="#525252" stroke-width="0.95" fill="none"/>
<path d="M149.50,338.75V339.75M147.78,338.75H151.23M147.78,339.75H151.23" stroke="#525252" stroke-width="0.95" fill="none"/>
<path d="M155.25,337.00V338.00M153.53,337.00H156.98M153.53,338.00H156.98" stroke="#525252" stroke-width="0.95" fill="none"/>
<path d="M161.00,339.50V340.50M159.28,339.50H162.73M159.28,340.50H162.73" stroke="#525252" stroke-width="0.95" fill="none"/>
<path d="M166.75,339.00V340.00M165.03,339.00H168.47M165.03,340.00H168.47" stroke="#525252" stroke-width="0.95" fill="none"/>
<path d="M172.50,335.75V336.75M170.77,335.75H174.22M170.77,336.75H174.22" stroke="#525252" stroke-width="0.95" fill="none"/>
<path d="M178.25,368.00V369.00M176.52,368.00H179.97M176.52,369.00H179.97" stroke="#525252" stroke-width="0.95" fill="none"/>
<path d="M184.00,336.50V337.50M182.27,336.50H185.72M182.27,337.50H185.72" stroke="#525252" stroke-width="0.95" fill="none"/>
<path d="M199.80,337.75V338.75M198.08,337.75H201.53M198.08,338.75H201.53" stroke="#525252" stroke-width="0.95" fill="none"/>
<path d="M205.55,337.00V338.00M203.83,337.00H207.28M203.83,338.00H207.28" stroke="#525252" stroke-width="0.95" fill="none"/>
<path d="M211.30,338.50V339.50M209.58,338.50H213.03M209.58,339.50H213.03" stroke="#525252" stroke-width="0.95" fill="none"/>
<path d="M217.05,339.00V340.00M215.33,339.00H218.77M215.33,340.00H218.77" stroke="#525252" stroke-width="0.95" fill="none"/>
<path d="M222.80,335.25V336.25M221.07,335.25H224.52M221.07,336.25H224.52" stroke="#525252" stroke-width="0.95" fill="none"/>
<path d="M228.55,363.75V367.00M226.82,363.75H230.27M226.82,367.00H230.27" stroke="#525252" stroke-width="0.95" fill="none"/>
<path d="M234.30,336.25V337.25M232.57,336.25H236.02M232.57,337.25H236.02" stroke="#525252" stroke-width="0.95" fill="none"/>
<line x1="41.00" y1="331.25" x2="41.00" y2="413.75" stroke="#262626" stroke-width="1.1"/>
<line x1="40.50" y1="413.25" x2="242.20" y2="413.25" stroke="#262626" stroke-width="1.1"/>
<line x1="66.15" y1="413.25" x2="66.15" y2="416.25" stroke="#262626" stroke-width="0.9"/>
<text x="59.09" y="427.25" font-size="10.0" textLength="14.26" lengthAdjust="spacingAndGlyphs" style="font-family:&quot;Liberation Sans&quot;, sans-serif" fill="#1c1c1c" stroke="#1c1c1c" stroke-width="0.22">Sig</text>
<line x1="116.45" y1="413.25" x2="116.45" y2="416.25" stroke="#262626" stroke-width="0.9"/>
<text x="99.02" y="427.25" font-size="10.0" textLength="34.69" lengthAdjust="spacingAndGlyphs" style="font-family:&quot;Liberation Sans&quot;, sans-serif" fill="#1c1c1c" stroke="#1c1c1c" stroke-width="0.22">RNNSig</text>
<line x1="166.75" y1="413.25" x2="166.75" y2="416.25" stroke="#262626" stroke-width="0.9"/>
<text x="147.18" y="427.25" font-size="10.0" textLength="38.96" lengthAdjust="spacingAndGlyphs" style="font-family:&quot;Liberation Sans&quot;, sans-serif" fill="#1c1c1c" stroke="#1c1c1c" stroke-width="0.22">DeepSig</text>
<line x1="217.05" y1="413.25" x2="217.05" y2="416.25" stroke="#262626" stroke-width="0.9"/>
<text x="206.56" y="427.25" font-size="10.0" textLength="20.99" lengthAdjust="spacingAndGlyphs" style="font-family:&quot;Liberation Sans&quot;, sans-serif" fill="#1c1c1c" stroke="#1c1c1c" stroke-width="0.22">RNN</text>
<text x="127.25" y="439.65" font-size="9.8" textLength="28.74" lengthAdjust="spacingAndGlyphs" style="font-family:&quot;Liberation Sans&quot;, sans-serif" fill="#1c1c1c" stroke="#1c1c1c" stroke-width="0.22">model</text>
<line x1="38.00" y1="413.10" x2="41.00" y2="413.10" stroke="#262626" stroke-width="0.9"/>
<text x="13.92" y="416.40" font-size="9.8" textLength="20.37" lengthAdjust="spacingAndGlyphs" style="font-family:&quot;Liberation Sans&quot;, sans-serif" fill="#1c1c1c" stroke="#1c1c1c" stroke-width="0.22">0.00</text>
<line x1="38.00" y1="392.50" x2="41.00" y2="392.50" stroke="#262626" stroke-width="0.9"/>
<text x="13.92" y="395.80" font-size="9.8" textLength="20.43" lengthAdjust="spacingAndGlyphs" style="font-family:&quot;Liberation Sans&quot;, sans-serif" fill="#1c1c1c" stroke="#1c1c1c" stroke-width="0.22">0.25</text>
<line x1="38.00" y1="371.90" x2="41.00" y2="371.90" stroke="#262626" stroke-width="0.9"/>
<text x="13.92" y="375.20" font-size="9.8" textLength="20.37" lengthAdjust="spacingAndGlyphs" style="font-family:&quot;Liberation Sans&quot;, sans-serif" fill="#1c1c1c" stroke="#1c1c1c" stroke-width="0.22">0.50</text>
<line x1="38.00" y1="351.30" x2="41.00" y2="351.30" stroke="#262626" stroke-width="0.9"/>
<text x="13.92" y="354.60" font-size="9.8" textLength="20.43" lengthAdjust="spacingAndGlyphs" style="font-family:&quot;Liberation Sans&quot;, sans-serif" fill="#1c1c1c" stroke="#1c1c1c" stroke-width="0.22">0.75</text>
<g transform="translate(9.80,381.00) rotate(-90)">
<text x="-0.71" y="0" font-size="10.0" textLength="18.23" lengthAdjust="spacingAndGlyphs" style="font-family:&quot;Liberation Sans&quot;, sans-serif" fill="#1c1c1c" stroke="#1c1c1c" stroke-width="0.22">BAC</text>
</g>
<text x="252.78" y="342.00" font-size="9.8" textLength="50.07" lengthAdjust="spacingAndGlyphs" style="font-family:&quot;Liberation Sans&quot;, sans-serif" fill="#1c1c1c" stroke="#1c1c1c" stroke-width="0.22">imputation</text>
<rect x="247.00" y="349.20" width="18.00" height="6.20" fill="#aeccdb"/>
<text x="271.97" y="355.85" font-size="9.8" textLength="20.16" lengthAdjust="spacingAndGlyphs" style="font-family:&quot;Liberation Sans&quot;, sans-serif" fill="#1c1c1c" stroke="#1c1c1c" stroke-width="0.22">zero</text>
<rect x="247.00" y="362.40" width="18.00" height="6.20" fill="#3274a1"/>
<text x="271.66" y="369.05" font-size="9.8" textLength="11.23" lengthAdjust="spacingAndGlyphs" style="font-family:&quot;Liberation Sans&quot;, sans-serif" fill="#1c1c1c" stroke="#1c1c1c" stroke-width="0.22">lin</text>
<rect x="247.00" y="375.60" width="18.00" height="6.20" fill="#b3d495"/>
<text x="272.21" y="382.25" font-size="9.8" textLength="6.48" lengthAdjust="spacingAndGlyphs" style="font-family:&quot;Liberation Sans&quot;, sans-serif" fill="#1c1c1c" stroke="#1c1c1c" stroke-width="0.22">ff</text>
<rect x="247.00" y="388.80" width="18.00" height="6.20" fill="#40923a"/>
<text x="271.97" y="395.45" font-size="9.8" textLength="29.92" lengthAdjust="spacingAndGlyphs" style="font-family:&quot;Liberation Sans&quot;, sans-serif" fill="#1c1c1c" stroke="#1c1c1c" stroke-width="0.22">causal</text>
<rect x="247.00" y="402.00" width="18.00" height="6.20" fill="#efa6a5"/>
<text x="271.68" y="408.65" font-size="9.8" textLength="14.47" lengthAdjust="spacingAndGlyphs" style="font-family:&quot;Liberation Sans&quot;, sans-serif" fill="#1c1c1c" stroke="#1c1c1c" stroke-width="0.22">ind</text>
<rect x="247.00" y="415.20" width="18.00" height="6.20" fill="#ca3335"/>
<text x="271.96" y="421.85" font-size="10.4" textLength="12.49" lengthAdjust="spacingAndGlyphs" style="font-family:&quot;Liberation Sans&quot;, sans-serif" fill="#1c1c1c" stroke="#1c1c1c" stroke-width="0.22">GP</text>
<rect x="247.00" y="428.40" width="18.00" height="6.20" fill="#ebbd81"/>
<text x="271.93" y="435.05" font-size="10.4" textLength="37.03" lengthAdjust="spacingAndGlyphs" style="font-family:&quot;Liberation Sans&quot;, sans-serif" fill="#1c1c1c" stroke="#1c1c1c" stroke-width="0.22">GP_PoM</text>
<rect x="378.61" y="359.00" width="5.56" height="50.60" fill="#aeccdb"/>
<rect x="384.17" y="348.25" width="5.56" height="61.35" fill="#3274a1"/>
<rect x="389.73" y="329.75" width="5.56" height="79.85" fill="#b3d495"/>
<rect x="395.29" y="356.00" width="5.56" height="53.60" fill="#40923a"/>
<rect x="400.85" y="355.25" width="5.56" height="54.35" fill="#efa6a5"/>
<rect x="406.41" y="360.00" width="5.56" height="49.60" fill="#ca3335"/>
<rect x="411.97" y="334.75" width="5.56" height="74.85" fill="#ebbd81"/>
<rect x="427.25" y="345.00" width="5.56" height="64.60" fill="#aeccdb"/>
<rect x="432.81" y="351.75" width="5.56" height="57.85" fill="#3274a1"/>
<rect x="438.37" y="331.00" width="5.56" height="78.60" fill="#b3d495"/>
<rect x="443.93" y="358.00" width="5.56" height="51.60" fill="#40923a"/>
<rect x="449.49" y="338.00" width="5.56" height="71.60" fill="#efa6a5"/>
<rect x="455.04" y="371.00" width="5.56" height="38.60" fill="#ca3335"/>
<rect x="460.60" y="352.50" width="5.56" height="57.10" fill="#ebbd81"/>
<rect x="475.89" y="406.10" width="5.56" height="3.50" fill="#aeccdb"/>
<rect x="481.45" y="341.10" width="5.56" height="68.50" fill="#3274a1"/>
<rect x="487.01" y="388.90" width="5.56" height="20.70" fill="#b3d495"/>
<rect x="492.56" y="343.20" width="5.56" height="66.40" fill="#40923a"/>
<rect x="498.12" y="354.60" width="5.56" height="55.00" fill="#efa6a5"/>
<rect x="503.68" y="347.20" width="5.56" height="62.40" fill="#ca3335"/>
<rect x="509.24" y="360.50" width="5.56" height="49.10" fill="#ebbd81"/>
<rect x="524.53" y="374.30" width="5.56" height="35.30" fill="#aeccdb"/>
<rect x="530.08" y="353.30" width="5.56" height="56.30" fill="#3274a1"/>
<rect x="535.64" y="353.30" width="5.56" height="56.30" fill="#b3d495"/>
<rect x="541.20" y="332.00" width="5.56" height="77.60" fill="#40923a"/>
<rect x="546.76" y="353.30" width="5.56" height="56.30" fill="#efa6a5"/>
<rect x="552.32" y="374.30" width="5.56" height="35.30" fill="#ca3335"/>
<rect x="557.88" y="353.30" width="5.56" height="56.30" fill="#ebbd81"/>
<line x1="373.75" y1="325.50" x2="373.75" y2="410.10" stroke="#262626" stroke-width="1.1"/>
<line x1="373.25" y1="409.60" x2="568.30" y2="409.60" stroke="#262626" stroke-width="1.1"/>
<line x1="398.07" y1="409.60" x2="398.07" y2="412.84" stroke="#262626" stroke-width="0.9"/>
<text x="390.44" y="424.72" font-size="10.8" textLength="15.42" lengthAdjust="spacingAndGlyphs" style="font-family:&quot;Liberation Sans&quot;, sans-serif" fill="#1c1c1c" stroke="#1c1c1c" stroke-width="0.22">Sig</text>
<line x1="446.71" y1="409.60" x2="446.71" y2="412.84" stroke="#262626" stroke-width="0.9"/>
<text x="427.87" y="424.72" font-size="10.8" textLength="37.48" lengthAdjust="spacingAndGlyphs" style="font-family:&quot;Liberation Sans&quot;, sans-serif" fill="#1c1c1c" stroke="#1c1c1c" stroke-width="0.22">RNNSig</text>
<line x1="495.34" y1="409.60" x2="495.34" y2="412.84" stroke="#262626" stroke-width="0.9"/>
<text x="474.20" y="424.72" font-size="10.8" textLength="42.09" lengthAdjust="spacingAndGlyphs" style="font-family:&quot;Liberation Sans&quot;, sans-serif" fill="#1c1c1c" stroke="#1c1c1c" stroke-width="0.22">DeepSig</text>
<line x1="543.98" y1="409.60" x2="543.98" y2="412.84" stroke="#262626" stroke-width="0.9"/>
<text x="532.65" y="424.72" font-size="10.8" textLength="22.68" lengthAdjust="spacingAndGlyphs" style="font-family:&quot;Liberation Sans&quot;, sans-serif" fill="#1c1c1c" stroke="#1c1c1c" stroke-width="0.22">RNN</text>
<text x="455.52" y="438.11" font-size="10.584000000000001" textLength="31.05" lengthAdjust="spacingAndGlyphs" style="font-family:&quot;Liberation Sans&quot;, sans-serif" fill="#1c1c1c" stroke="#1c1c1c" stroke-width="0.22">model</text>
<line x1="371.59" y1="408.54" x2="373.75" y2="408.54" stroke="#262626" stroke-width="0.75"/>
<line x1="371.59" y1="406.12" x2="373.75" y2="406.12" stroke="#262626" stroke-width="0.75"/>
<line x1="371.59" y1="404.01" x2="373.75" y2="404.01" stroke="#262626" stroke-width="0.75"/>
<line x1="371.59" y1="402.16" x2="373.75" y2="402.16" stroke="#262626" stroke-width="0.75"/>
<line x1="370.51" y1="400.50" x2="373.75" y2="400.50" stroke="#262626" stroke-width="0.9"/>
<text x="349.27" y="404.00" font-size="10.4" textLength="13.01" lengthAdjust="spacingAndGlyphs" style="font-family:&quot;Liberation Sans&quot;, sans-serif" fill="#1c1c1c" stroke="#1c1c1c" stroke-width="0.25">10</text>
<text x="362.71" y="400.80" font-size="7.4" textLength="3.37" lengthAdjust="spacingAndGlyphs" style="font-family:&quot;Liberation Sans&quot;, sans-serif" fill="#1c1c1c" stroke="#1c1c1c" stroke-width="0.2">4</text>
<line x1="371.59" y1="389.59" x2="373.75" y2="389.59" stroke="#262626" stroke-width="0.75"/>
<line x1="371.59" y1="383.20" x2="373.75" y2="383.20" stroke="#262626" stroke-width="0.75"/>
<line x1="371.59" y1="378.68" x2="373.75" y2="378.68" stroke="#262626" stroke-width="0.75"/>
<line x1="371.59" y1="375.16" x2="373.75" y2="375.16" stroke="#262626" stroke-width="0.75"/>
<line x1="371.59" y1="372.29" x2="373.75" y2="372.29" stroke="#262626" stroke-width="0.75"/>
<line x1="371.59" y1="369.87" x2="373.75" y2="369.87" stroke="#262626" stroke-width="0.75"/>
<line x1="371.59" y1="367.76" x2="373.75" y2="367.76" stroke="#262626" stroke-width="0.75"/>
<line x1="371.59" y1="365.91" x2="373.75" y2="365.91" stroke="#262626" stroke-width="0.75"/>
<line x1="370.51" y1="364.25" x2="373.75" y2="364.25" stroke="#262626" stroke-width="0.9"/>
<text x="349.27" y="367.75" font-size="10.4" textLength="13.01" lengthAdjust="spacingAndGlyphs" style="font-family:&quot;Liberation Sans&quot;, sans-serif" fill="#1c1c1c" stroke="#1c1c1c" stroke-width="0.25">10</text>
<text x="362.57" y="364.55" font-size="7.4" textLength="3.62" lengthAdjust="spacingAndGlyphs" style="font-family:&quot;Liberation Sans&quot;, sans-serif" fill="#1c1c1c" stroke="#1c1c1c" stroke-width="0.2">5</text>
<line x1="371.59" y1="353.34" x2="373.75" y2="353.34" stroke="#262626" stroke-width="0.75"/>
<line x1="371.59" y1="346.95" x2="373.75" y2="346.95" stroke="#262626" stroke-width="0.75"/>
<line x1="371.59" y1="342.43" x2="373.75" y2="342.43" stroke="#262626" stroke-width="0.75"/>
<line x1="371.59" y1="338.91" x2="373.75" y2="338.91" stroke="#262626" stroke-width="0.75"/>
<line x1="371.59" y1="336.04" x2="373.75" y2="336.04" stroke="#262626" stroke-width="0.75"/>
<line x1="371.59" y1="333.62" x2="373.75" y2="333.62" stroke="#262626" stroke-width="0.75"/>
<line x1="371.59" y1="331.51" x2="373.75" y2="331.51" stroke="#262626" stroke-width="0.75"/>
<line x1="371.59" y1="329.66" x2="373.75" y2="329.66" stroke="#262626" stroke-width="0.75"/>
<line x1="370.51" y1="328.00" x2="373.75" y2="328.00" stroke="#262626" stroke-width="0.9"/>
<text x="349.27" y="331.50" font-size="10.4" textLength="13.01" lengthAdjust="spacingAndGlyphs" style="font-family:&quot;Liberation Sans&quot;, sans-serif" fill="#1c1c1c" stroke="#1c1c1c" stroke-width="0.25">10</text>
<text x="362.50" y="328.30" font-size="7.4" textLength="3.70" lengthAdjust="spacingAndGlyphs" style="font-family:&quot;Liberation Sans&quot;, sans-serif" fill="#1c1c1c" stroke="#1c1c1c" stroke-width="0.2">6</text>
<g transform="translate(344.49,423.50) rotate(-90)">
<text x="-0.89" y="0" font-size="10.6" textLength="112.68" lengthAdjust="spacingAndGlyphs" style="font-family:&quot;Liberation Sans&quot;, sans-serif" fill="#1c1c1c" stroke="#1c1c1c" stroke-width="0.22">Number of Parameters</text>
</g>
<text x="579.13" y="328.10" font-size="10.584000000000001" textLength="54.09" lengthAdjust="spacingAndGlyphs" style="font-family:&quot;Liberation Sans&quot;, sans-serif" fill="#1c1c1c" stroke="#1c1c1c" stroke-width="0.22">imputation</text>
<rect x="572.80" y="335.50" width="20.10" height="7.00" fill="#aeccdb"/>
<text x="600.64" y="342.83" font-size="10.584000000000001" textLength="21.78" lengthAdjust="spacingAndGlyphs" style="font-family:&quot;Liberation Sans&quot;, sans-serif" fill="#1c1c1c" stroke="#1c1c1c" stroke-width="0.22">zero</text>
<rect x="572.80" y="349.97" width="20.10" height="7.00" fill="#3274a1"/>
<text x="600.30" y="357.30" font-size="10.584000000000001" textLength="12.15" lengthAdjust="spacingAndGlyphs" style="font-family:&quot;Liberation Sans&quot;, sans-serif" fill="#1c1c1c" stroke="#1c1c1c" stroke-width="0.22">lin</text>
<rect x="572.80" y="364.44" width="20.10" height="7.00" fill="#b3d495"/>
<text x="600.89" y="371.77" font-size="10.584000000000001" textLength="7.01" lengthAdjust="spacingAndGlyphs" style="font-family:&quot;Liberation Sans&quot;, sans-serif" fill="#1c1c1c" stroke="#1c1c1c" stroke-width="0.22">ff</text>
<rect x="572.80" y="378.91" width="20.10" height="7.00" fill="#40923a"/>
<text x="600.64" y="386.24" font-size="10.584000000000001" textLength="32.33" lengthAdjust="spacingAndGlyphs" style="font-family:&quot;Liberation Sans&quot;, sans-serif" fill="#1c1c1c" stroke="#1c1c1c" stroke-width="0.22">causal</text>
<rect x="572.80" y="393.38" width="20.10" height="7.00" fill="#efa6a5"/>
<text x="600.33" y="400.71" font-size="10.584000000000001" textLength="15.65" lengthAdjust="spacingAndGlyphs" style="font-family:&quot;Liberation Sans&quot;, sans-serif" fill="#1c1c1c" stroke="#1c1c1c" stroke-width="0.22">ind</text>
<rect x="572.80" y="407.85" width="20.10" height="7.00" fill="#ca3335"/>
<text x="600.62" y="415.18" font-size="11.232000000000001" textLength="13.50" lengthAdjust="spacingAndGlyphs" style="font-family:&quot;Liberation Sans&quot;, sans-serif" fill="#1c1c1c" stroke="#1c1c1c" stroke-width="0.22">GP</text>
<rect x="572.80" y="422.32" width="20.10" height="7.00" fill="#ebbd81"/>
<text x="600.59" y="429.65" font-size="11.232000000000001" textLength="40.01" lengthAdjust="spacingAndGlyphs" style="font-family:&quot;Liberation Sans&quot;, sans-serif" fill="#1c1c1c" stroke="#1c1c1c" stroke-width="0.22">GP_PoM</text>
<rect x="41.96" y="496.75" width="5.78" height="68.75" fill="#aeccdb"/>
<rect x="47.74" y="494.25" width="5.78" height="71.25" fill="#3274a1"/>
<rect x="53.53" y="496.75" width="5.78" height="68.75" fill="#b3d495"/>
<rect x="59.31" y="497.50" width="5.78" height="68.00" fill="#40923a"/>
<rect x="65.09" y="491.75" width="5.78" height="73.75" fill="#efa6a5"/>
<rect x="70.87" y="535.50" width="5.78" height="30.00" fill="#ca3335"/>
<rect x="76.66" y="493.75" width="5.78" height="71.75" fill="#ebbd81"/>
<rect x="92.56" y="492.25" width="5.78" height="73.25" fill="#aeccdb"/>
<rect x="98.34" y="491.75" width="5.78" height="73.75" fill="#3274a1"/>
<rect x="104.13" y="492.25" width="5.78" height="73.25" fill="#b3d495"/>
<rect x="109.91" y="492.75" width="5.78" height="72.75" fill="#40923a"/>
<rect x="115.69" y="489.00" width="5.78" height="76.50" fill="#efa6a5"/>
<rect x="121.47" y="531.50" width="5.78" height="34.00" fill="#ca3335"/>
<rect x="127.26" y="489.25" width="5.78" height="76.25" fill="#ebbd81"/>
<rect x="143.16" y="491.25" width="5.78" height="74.25" fill="#aeccdb"/>
<rect x="148.94" y="490.75" width="5.78" height="74.75" fill="#3274a1"/>
<rect x="154.73" y="493.75" width="5.78" height="71.75" fill="#b3d495"/>
<rect x="160.51" y="492.25" width="5.78" height="73.25" fill="#40923a"/>
<rect x="166.29" y="485.50" width="5.78" height="80.00" fill="#efa6a5"/>
<rect x="172.07" y="516.25" width="5.78" height="49.25" fill="#ca3335"/>
<rect x="177.86" y="486.00" width="5.78" height="79.50" fill="#ebbd81"/>
<rect x="193.76" y="490.50" width="5.78" height="75.00" fill="#aeccdb"/>
<rect x="199.54" y="490.75" width="5.78" height="74.75" fill="#3274a1"/>
<rect x="205.33" y="492.00" width="5.78" height="73.50" fill="#b3d495"/>
<rect x="211.11" y="492.50" width="5.78" height="73.00" fill="#40923a"/>
<rect x="216.89" y="486.25" width="5.78" height="79.25" fill="#efa6a5"/>
<rect x="222.67" y="510.50" width="5.78" height="55.00" fill="#ca3335"/>
<rect x="228.46" y="486.75" width="5.78" height="78.75" fill="#ebbd81"/>
<path d="M44.85,496.25V497.25M43.12,496.25H46.59M43.12,497.25H46.59" stroke="#525252" stroke-width="0.95" fill="none"/>
<path d="M50.63,493.75V494.75M48.90,493.75H52.37M48.90,494.75H52.37" stroke="#525252" stroke-width="0.95" fill="none"/>
<path d="M56.42,496.25V497.25M54.68,496.25H58.15M54.68,497.25H58.15" stroke="#525252" stroke-width="0.95" fill="none"/>
<path d="M62.20,497.00V498.00M60.47,497.00H63.93M60.47,498.00H63.93" stroke="#525252" stroke-width="0.95" fill="none"/>
<path d="M67.98,491.25V492.25M66.25,491.25H69.72M66.25,492.25H69.72" stroke="#525252" stroke-width="0.95" fill="none"/>
<path d="M73.77,532.50V537.50M72.03,532.50H75.50M72.03,537.50H75.50" stroke="#525252" stroke-width="0.95" fill="none"/>
<path d="M79.55,492.50V495.00M77.81,492.50H81.28M77.81,495.00H81.28" stroke="#525252" stroke-width="0.95" fill="none"/>
<path d="M95.45,491.75V492.75M93.72,491.75H97.19M93.72,492.75H97.19" stroke="#525252" stroke-width="0.95" fill="none"/>
<path d="M101.23,491.25V492.25M99.50,491.25H102.97M99.50,492.25H102.97" stroke="#525252" stroke-width="0.95" fill="none"/>
<path d="M107.02,491.75V492.75M105.28,491.75H108.75M105.28,492.75H108.75" stroke="#525252" stroke-width="0.95" fill="none"/>
<path d="M112.80,492.25V493.25M111.07,492.25H114.53M111.07,493.25H114.53" stroke="#525252" stroke-width="0.95" fill="none"/>
<path d="M118.58,488.50V489.50M116.85,488.50H120.32M116.85,489.50H120.32" stroke="#525252" stroke-width="0.95" fill="none"/>
<path d="M124.37,529.50V533.00M122.63,529.50H126.10M122.63,533.00H126.10" stroke="#525252" stroke-width="0.95" fill="none"/>
<path d="M130.15,488.75V489.75M128.41,488.75H131.88M128.41,489.75H131.88" stroke="#525252" stroke-width="0.95" fill="none"/>
<path d="M146.05,490.75V491.75M144.32,490.75H147.79M144.32,491.75H147.79" stroke="#525252" stroke-width="0.95" fill="none"/>
<path d="M151.83,490.25V491.25M150.10,490.25H153.57M150.10,491.25H153.57" stroke="#525252" stroke-width="0.95" fill="none"/>
<path d="M157.62,493.25V494.25M155.88,493.25H159.35M155.88,494.25H159.35" stroke="#525252" stroke-width="0.95" fill="none"/>
<path d="M163.40,491.75V492.75M161.67,491.75H165.13M161.67,492.75H165.13" stroke="#525252" stroke-width="0.95" fill="none"/>
<path d="M169.18,485.00V486.00M167.45,485.00H170.92M167.45,486.00H170.92" stroke="#525252" stroke-width="0.95" fill="none"/>
<path d="M174.97,513.75V518.75M173.23,513.75H176.70M173.23,518.75H176.70" stroke="#525252" stroke-width="0.95" fill="none"/>
<path d="M180.75,485.50V486.50M179.01,485.50H182.48M179.01,486.50H182.48" stroke="#525252" stroke-width="0.95" fill="none"/>
<path d="M196.65,490.00V491.00M194.92,490.00H198.39M194.92,491.00H198.39" stroke="#525252" stroke-width="0.95" fill="none"/>
<path d="M202.43,490.25V491.25M200.70,490.25H204.17M200.70,491.25H204.17" stroke="#525252" stroke-width="0.95" fill="none"/>
<path d="M208.22,491.50V492.50M206.48,491.50H209.95M206.48,492.50H209.95" stroke="#525252" stroke-width="0.95" fill="none"/>
<path d="M214.00,492.00V493.00M212.27,492.00H215.73M212.27,493.00H215.73" stroke="#525252" stroke-width="0.95" fill="none"/>
<path d="M219.78,485.75V486.75M218.05,485.75H221.52M218.05,486.75H221.52" stroke="#525252" stroke-width="0.95" fill="none"/>
<path d="M225.57,508.25V513.00M223.83,508.25H227.30M223.83,513.00H227.30" stroke="#525252" stroke-width="0.95" fill="none"/>
<path d="M231.35,486.25V487.25M229.61,486.25H233.08M229.61,487.25H233.08" stroke="#525252" stroke-width="0.95" fill="none"/>
<line x1="36.90" y1="481.25" x2="36.90" y2="566.00" stroke="#262626" stroke-width="1.1"/>
<line x1="36.40" y1="565.50" x2="239.30" y2="565.50" stroke="#262626" stroke-width="1.1"/>
<line x1="62.20" y1="565.50" x2="62.20" y2="568.62" stroke="#262626" stroke-width="0.9"/>
<text x="54.86" y="580.06" font-size="10.4" textLength="14.84" lengthAdjust="spacingAndGlyphs" style="font-family:&quot;Liberation Sans&quot;, sans-serif" fill="#1c1c1c" stroke="#1c1c1c" stroke-width="0.22">Sig</text>
<line x1="112.80" y1="565.50" x2="112.80" y2="568.62" stroke="#262626" stroke-width="0.9"/>
<text x="94.67" y="580.06" font-size="10.4" textLength="36.08" lengthAdjust="spacingAndGlyphs" style="font-family:&quot;Liberation Sans&quot;, sans-serif" fill="#1c1c1c" stroke="#1c1c1c" stroke-width="0.22">RNNSig</text>
<line x1="163.40" y1="565.50" x2="163.40" y2="568.62" stroke="#262626" stroke-width="0.9"/>
<text x="143.04" y="580.06" font-size="10.4" textLength="40.52" lengthAdjust="spacingAndGlyphs" style="font-family:&quot;Liberation Sans&quot;, sans-serif" fill="#1c1c1c" stroke="#1c1c1c" stroke-width="0.22">DeepSig</text>
<line x1="214.00" y1="565.50" x2="214.00" y2="568.62" stroke="#262626" stroke-width="0.9"/>
<text x="203.09" y="580.06" font-size="10.4" textLength="21.84" lengthAdjust="spacingAndGlyphs" style="font-family:&quot;Liberation Sans&quot;, sans-serif" fill="#1c1c1c" stroke="#1c1c1c" stroke-width="0.22">RNN</text>
<text x="123.17" y="592.96" font-size="10.192000000000002" textLength="29.89" lengthAdjust="spacingAndGlyphs" style="font-family:&quot;Liberation Sans&quot;, sans-serif" fill="#1c1c1c" stroke="#1c1c1c" stroke-width="0.22">model</text>
<line x1="33.78" y1="565.45" x2="36.90" y2="565.45" stroke="#262626" stroke-width="0.9"/>
<text x="15.35" y="568.88" font-size="10.192000000000002" textLength="14.55" lengthAdjust="spacingAndGlyphs" style="font-family:&quot;Liberation Sans&quot;, sans-serif" fill="#1c1c1c" stroke="#1c1c1c" stroke-width="0.22">0.0</text>
<line x1="33.78" y1="524.62" x2="36.90" y2="524.62" stroke="#262626" stroke-width="0.9"/>
<text x="15.35" y="528.06" font-size="10.192000000000002" textLength="14.60" lengthAdjust="spacingAndGlyphs" style="font-family:&quot;Liberation Sans&quot;, sans-serif" fill="#1c1c1c" stroke="#1c1c1c" stroke-width="0.22">0.5</text>
<line x1="33.78" y1="483.80" x2="36.90" y2="483.80" stroke="#262626" stroke-width="0.9"/>
<text x="14.97" y="487.23" font-size="10.192000000000002" textLength="14.94" lengthAdjust="spacingAndGlyphs" style="font-family:&quot;Liberation Sans&quot;, sans-serif" fill="#1c1c1c" stroke="#1c1c1c" stroke-width="0.22">1.0</text>
<g transform="translate(10.30,532.80) rotate(-90)">
<text x="-0.77" y="0" font-size="10.3" textLength="19.71" lengthAdjust="spacingAndGlyphs" style="font-family:&quot;Liberation Sans&quot;, sans-serif" fill="#1c1c1c" stroke="#1c1c1c" stroke-width="0.22">BAC</text>
</g>
<text x="249.75" y="492.00" font-size="10.192000000000002" textLength="52.08" lengthAdjust="spacingAndGlyphs" style="font-family:&quot;Liberation Sans&quot;, sans-serif" fill="#1c1c1c" stroke="#1c1c1c" stroke-width="0.22">imputation</text>
<rect x="244.25" y="499.30" width="18.25" height="6.20" fill="#aeccdb"/>
<text x="270.46" y="506.09" font-size="10.192000000000002" textLength="20.97" lengthAdjust="spacingAndGlyphs" style="font-family:&quot;Liberation Sans&quot;, sans-serif" fill="#1c1c1c" stroke="#1c1c1c" stroke-width="0.22">zero</text>
<rect x="244.25" y="512.97" width="18.25" height="6.20" fill="#3274a1"/>
<text x="270.13" y="519.76" font-size="10.192000000000002" textLength="11.69" lengthAdjust="spacingAndGlyphs" style="font-family:&quot;Liberation Sans&quot;, sans-serif" fill="#1c1c1c" stroke="#1c1c1c" stroke-width="0.22">lin</text>
<rect x="244.25" y="526.64" width="18.25" height="6.20" fill="#b3d495"/>
<text x="270.70" y="533.43" font-size="10.192000000000002" textLength="6.74" lengthAdjust="spacingAndGlyphs" style="font-family:&quot;Liberation Sans&quot;, sans-serif" fill="#1c1c1c" stroke="#1c1c1c" stroke-width="0.22">ff</text>
<rect x="244.25" y="540.31" width="18.25" height="6.20" fill="#40923a"/>
<text x="270.46" y="547.10" font-size="10.192000000000002" textLength="31.12" lengthAdjust="spacingAndGlyphs" style="font-family:&quot;Liberation Sans&quot;, sans-serif" fill="#1c1c1c" stroke="#1c1c1c" stroke-width="0.22">causal</text>
<rect x="244.25" y="553.98" width="18.25" height="6.20" fill="#efa6a5"/>
<text x="270.15" y="560.77" font-size="10.192000000000002" textLength="15.06" lengthAdjust="spacingAndGlyphs" style="font-family:&quot;Liberation Sans&quot;, sans-serif" fill="#1c1c1c" stroke="#1c1c1c" stroke-width="0.22">ind</text>
<rect x="244.25" y="567.65" width="18.25" height="6.20" fill="#ca3335"/>
<text x="270.44" y="574.44" font-size="10.816" textLength="12.99" lengthAdjust="spacingAndGlyphs" style="font-family:&quot;Liberation Sans&quot;, sans-serif" fill="#1c1c1c" stroke="#1c1c1c" stroke-width="0.22">GP</text>
<rect x="244.25" y="581.32" width="18.25" height="6.20" fill="#ebbd81"/>
<text x="270.41" y="588.11" font-size="10.816" textLength="38.52" lengthAdjust="spacingAndGlyphs" style="font-family:&quot;Liberation Sans&quot;, sans-serif" fill="#1c1c1c" stroke="#1c1c1c" stroke-width="0.22">GP_PoM</text>
<rect x="375.71" y="506.25" width="5.84" height="59.75" fill="#aeccdb"/>
<rect x="381.54" y="511.25" width="5.84" height="54.75" fill="#3274a1"/>
<rect x="387.38" y="497.00" width="5.84" height="69.00" fill="#b3d495"/>
<rect x="393.22" y="507.00" width="5.84" height="59.00" fill="#40923a"/>
<rect x="399.06" y="501.75" width="5.84" height="64.25" fill="#efa6a5"/>
<rect x="404.89" y="497.00" width="5.84" height="69.00" fill="#ca3335"/>
<rect x="410.73" y="515.00" width="5.84" height="51.00" fill="#ebbd81"/>
<rect x="426.78" y="542.75" width="5.84" height="23.25" fill="#aeccdb"/>
<rect x="432.62" y="504.75" width="5.84" height="61.25" fill="#3274a1"/>
<rect x="438.46" y="502.50" width="5.84" height="63.50" fill="#b3d495"/>
<rect x="444.29" y="510.75" width="5.84" height="55.25" fill="#40923a"/>
<rect x="450.13" y="528.00" width="5.84" height="38.00" fill="#efa6a5"/>
<rect x="455.97" y="497.25" width="5.84" height="68.75" fill="#ca3335"/>
<rect x="461.81" y="512.50" width="5.84" height="53.50" fill="#ebbd81"/>
<rect x="477.86" y="555.30" width="5.84" height="10.70" fill="#aeccdb"/>
<rect x="483.69" y="531.10" width="5.84" height="34.90" fill="#3274a1"/>
<rect x="489.53" y="563.50" width="5.84" height="2.50" fill="#b3d495"/>
<rect x="495.37" y="542.80" width="5.84" height="23.20" fill="#40923a"/>
<rect x="501.21" y="555.00" width="5.84" height="11.00" fill="#efa6a5"/>
<rect x="507.04" y="537.70" width="5.84" height="28.30" fill="#ca3335"/>
<rect x="512.88" y="522.30" width="5.84" height="43.70" fill="#ebbd81"/>
<rect x="528.93" y="541.70" width="5.84" height="24.30" fill="#aeccdb"/>
<rect x="534.77" y="523.10" width="5.84" height="42.90" fill="#3274a1"/>
<rect x="540.61" y="541.70" width="5.84" height="24.30" fill="#b3d495"/>
<rect x="546.44" y="559.80" width="5.84" height="6.20" fill="#40923a"/>
<rect x="552.28" y="504.50" width="5.84" height="61.50" fill="#efa6a5"/>
<rect x="558.12" y="504.50" width="5.84" height="61.50" fill="#ca3335"/>
<rect x="563.96" y="541.70" width="5.84" height="24.30" fill="#ebbd81"/>
<line x1="370.60" y1="493.50" x2="370.60" y2="566.50" stroke="#262626" stroke-width="1.1"/>
<line x1="370.10" y1="566.00" x2="574.90" y2="566.00" stroke="#262626" stroke-width="1.1"/>
<line x1="396.14" y1="566.00" x2="396.14" y2="569.00" stroke="#262626" stroke-width="0.9"/>
<text x="389.08" y="580.00" font-size="10.0" textLength="14.26" lengthAdjust="spacingAndGlyphs" style="font-family:&quot;Liberation Sans&quot;, sans-serif" fill="#1c1c1c" stroke="#1c1c1c" stroke-width="0.22">Sig</text>
<line x1="447.21" y1="566.00" x2="447.21" y2="569.00" stroke="#262626" stroke-width="0.9"/>
<text x="429.78" y="580.00" font-size="10.0" textLength="34.69" lengthAdjust="spacingAndGlyphs" style="font-family:&quot;Liberation Sans&quot;, sans-serif" fill="#1c1c1c" stroke="#1c1c1c" stroke-width="0.22">RNNSig</text>
<line x1="498.29" y1="566.00" x2="498.29" y2="569.00" stroke="#262626" stroke-width="0.9"/>
<text x="478.71" y="580.00" font-size="10.0" textLength="38.96" lengthAdjust="spacingAndGlyphs" style="font-family:&quot;Liberation Sans&quot;, sans-serif" fill="#1c1c1c" stroke="#1c1c1c" stroke-width="0.22">DeepSig</text>
<line x1="549.36" y1="566.00" x2="549.36" y2="569.00" stroke="#262626" stroke-width="0.9"/>
<text x="538.88" y="580.00" font-size="10.0" textLength="20.99" lengthAdjust="spacingAndGlyphs" style="font-family:&quot;Liberation Sans&quot;, sans-serif" fill="#1c1c1c" stroke="#1c1c1c" stroke-width="0.22">RNN</text>
<text x="458.40" y="592.40" font-size="9.8" textLength="28.74" lengthAdjust="spacingAndGlyphs" style="font-family:&quot;Liberation Sans&quot;, sans-serif" fill="#1c1c1c" stroke="#1c1c1c" stroke-width="0.22">model</text>
<line x1="368.60" y1="565.64" x2="370.60" y2="565.64" stroke="#262626" stroke-width="0.75"/>
<line x1="367.60" y1="564.20" x2="370.60" y2="564.20" stroke="#262626" stroke-width="0.9"/>
<text x="347.28" y="567.25" font-size="10.3" textLength="12.12" lengthAdjust="spacingAndGlyphs" style="font-family:&quot;Liberation Sans&quot;, sans-serif" fill="#1c1c1c" stroke="#1c1c1c" stroke-width="0.25">10</text>
<text x="359.95" y="564.10" font-size="7.0" textLength="3.53" lengthAdjust="spacingAndGlyphs" style="font-family:&quot;Liberation Sans&quot;, sans-serif" fill="#1c1c1c" stroke="#1c1c1c" stroke-width="0.2">4</text>
<line x1="368.60" y1="554.73" x2="370.60" y2="554.73" stroke="#262626" stroke-width="0.75"/>
<line x1="368.60" y1="549.19" x2="370.60" y2="549.19" stroke="#262626" stroke-width="0.75"/>
<line x1="368.60" y1="545.27" x2="370.60" y2="545.27" stroke="#262626" stroke-width="0.75"/>
<line x1="368.60" y1="542.22" x2="370.60" y2="542.22" stroke="#262626" stroke-width="0.75"/>
<line x1="368.60" y1="539.73" x2="370.60" y2="539.73" stroke="#262626" stroke-width="0.75"/>
<line x1="368.60" y1="537.62" x2="370.60" y2="537.62" stroke="#262626" stroke-width="0.75"/>
<line x1="368.60" y1="535.80" x2="370.60" y2="535.80" stroke="#262626" stroke-width="0.75"/>
<line x1="368.60" y1="534.19" x2="370.60" y2="534.19" stroke="#262626" stroke-width="0.75"/>
<line x1="367.60" y1="532.75" x2="370.60" y2="532.75" stroke="#262626" stroke-width="0.9"/>
<text x="347.28" y="535.80" font-size="10.3" textLength="12.12" lengthAdjust="spacingAndGlyphs" style="font-family:&quot;Liberation Sans&quot;, sans-serif" fill="#1c1c1c" stroke="#1c1c1c" stroke-width="0.25">10</text>
<text x="359.81" y="532.65" font-size="7.0" textLength="3.79" lengthAdjust="spacingAndGlyphs" style="font-family:&quot;Liberation Sans&quot;, sans-serif" fill="#1c1c1c" stroke="#1c1c1c" stroke-width="0.2">5</text>
<line x1="368.60" y1="523.28" x2="370.60" y2="523.28" stroke="#262626" stroke-width="0.75"/>
<line x1="368.60" y1="517.74" x2="370.60" y2="517.74" stroke="#262626" stroke-width="0.75"/>
<line x1="368.60" y1="513.82" x2="370.60" y2="513.82" stroke="#262626" stroke-width="0.75"/>
<line x1="368.60" y1="510.77" x2="370.60" y2="510.77" stroke="#262626" stroke-width="0.75"/>
<line x1="368.60" y1="508.28" x2="370.60" y2="508.28" stroke="#262626" stroke-width="0.75"/>
<line x1="368.60" y1="506.17" x2="370.60" y2="506.17" stroke="#262626" stroke-width="0.75"/>
<line x1="368.60" y1="504.35" x2="370.60" y2="504.35" stroke="#262626" stroke-width="0.75"/>
<line x1="368.60" y1="502.74" x2="370.60" y2="502.74" stroke="#262626" stroke-width="0.75"/>
<line x1="367.60" y1="501.30" x2="370.60" y2="501.30" stroke="#262626" stroke-width="0.9"/>
<text x="347.28" y="504.35" font-size="10.3" textLength="12.12" lengthAdjust="spacingAndGlyphs" style="font-family:&quot;Liberation Sans&quot;, sans-serif" fill="#1c1c1c" stroke="#1c1c1c" stroke-width="0.25">10</text>
<text x="359.73" y="501.20" font-size="7.0" textLength="3.88" lengthAdjust="spacingAndGlyphs" style="font-family:&quot;Liberation Sans&quot;, sans-serif" fill="#1c1c1c" stroke="#1c1c1c" stroke-width="0.2">6</text>
<g transform="translate(342.90,580.30) rotate(-90)">
<text x="-0.82" y="0" font-size="9.8" textLength="103.17" lengthAdjust="spacingAndGlyphs" style="font-family:&quot;Liberation Sans&quot;, sans-serif" fill="#1c1c1c" stroke="#1c1c1c" stroke-width="0.22">Number of Parameters</text>
</g>
<text x="584.48" y="492.00" font-size="9.8" textLength="50.07" lengthAdjust="spacingAndGlyphs" style="font-family:&quot;Liberation Sans&quot;, sans-serif" fill="#1c1c1c" stroke="#1c1c1c" stroke-width="0.22">imputation</text>
<rect x="578.90" y="499.15" width="18.10" height="6.20" fill="#aeccdb"/>
<text x="604.07" y="505.80" font-size="9.8" textLength="20.16" lengthAdjust="spacingAndGlyphs" style="font-family:&quot;Liberation Sans&quot;, sans-serif" fill="#1c1c1c" stroke="#1c1c1c" stroke-width="0.22">zero</text>
<rect x="578.90" y="512.55" width="18.10" height="6.20" fill="#3274a1"/>
<text x="603.76" y="519.20" font-size="9.8" textLength="11.23" lengthAdjust="spacingAndGlyphs" style="font-family:&quot;Liberation Sans&quot;, sans-serif" fill="#1c1c1c" stroke="#1c1c1c" stroke-width="0.22">lin</text>
<rect x="578.90" y="525.95" width="18.10" height="6.20" fill="#b3d495"/>
<text x="604.31" y="532.60" font-size="9.8" textLength="6.48" lengthAdjust="spacingAndGlyphs" style="font-family:&quot;Liberation Sans&quot;, sans-serif" fill="#1c1c1c" stroke="#1c1c1c" stroke-width="0.22">ff</text>
<rect x="578.90" y="539.35" width="18.10" height="6.20" fill="#40923a"/>
<text x="604.07" y="546.00" font-size="9.8" textLength="29.92" lengthAdjust="spacingAndGlyphs" style="font-family:&quot;Liberation Sans&quot;, sans-serif" fill="#1c1c1c" stroke="#1c1c1c" stroke-width="0.22">causal</text>
<rect x="578.90" y="552.75" width="18.10" height="6.20" fill="#efa6a5"/>
<text x="603.78" y="559.40" font-size="9.8" textLength="14.47" lengthAdjust="spacingAndGlyphs" style="font-family:&quot;Liberation Sans&quot;, sans-serif" fill="#1c1c1c" stroke="#1c1c1c" stroke-width="0.22">ind</text>
<rect x="578.90" y="566.15" width="18.10" height="6.20" fill="#ca3335"/>
<text x="604.06" y="572.80" font-size="10.4" textLength="12.49" lengthAdjust="spacingAndGlyphs" style="font-family:&quot;Liberation Sans&quot;, sans-serif" fill="#1c1c1c" stroke="#1c1c1c" stroke-width="0.22">GP</text>
<rect x="578.90" y="579.55" width="18.10" height="6.20" fill="#ebbd81"/>
<text x="604.03" y="586.20" font-size="10.4" textLength="37.03" lengthAdjust="spacingAndGlyphs" style="font-family:&quot;Liberation Sans&quot;, sans-serif" fill="#1c1c1c" stroke="#1c1c1c" stroke-width="0.22">GP_PoM</text>
<rect x="41.24" y="666.75" width="5.87" height="67.00" fill="#aeccdb"/>
<rect x="47.11" y="660.50" width="5.87" height="73.25" fill="#3274a1"/>
<rect x="52.99" y="657.50" width="5.87" height="76.25" fill="#b3d495"/>
<rect x="58.86" y="662.00" width="5.87" height="71.75" fill="#40923a"/>
<rect x="64.74" y="665.50" width="5.87" height="68.25" fill="#efa6a5"/>
<rect x="70.61" y="688.00" width="5.87" height="45.75" fill="#ca3335"/>
<rect x="76.49" y="683.00" width="5.87" height="50.75" fill="#ebbd81"/>
<rect x="92.64" y="675.00" width="5.87" height="58.75" fill="#aeccdb"/>
<rect x="98.51" y="670.75" width="5.87" height="63.00" fill="#3274a1"/>
<rect x="104.39" y="667.00" width="5.87" height="66.75" fill="#b3d495"/>
<rect x="110.26" y="662.00" width="5.87" height="71.75" fill="#40923a"/>
<rect x="116.14" y="659.00" width="5.87" height="74.75" fill="#efa6a5"/>
<rect x="122.01" y="679.50" width="5.87" height="54.25" fill="#ca3335"/>
<rect x="127.89" y="673.75" width="5.87" height="60.00" fill="#ebbd81"/>
<rect x="144.04" y="668.00" width="5.87" height="65.75" fill="#aeccdb"/>
<rect x="149.91" y="660.75" width="5.87" height="73.00" fill="#3274a1"/>
<rect x="155.79" y="661.75" width="5.87" height="72.00" fill="#b3d495"/>
<rect x="161.66" y="661.00" width="5.87" height="72.75" fill="#40923a"/>
<rect x="167.54" y="663.00" width="5.87" height="70.75" fill="#efa6a5"/>
<rect x="173.41" y="662.50" width="5.87" height="71.25" fill="#ca3335"/>
<rect x="179.29" y="662.50" width="5.87" height="71.25" fill="#ebbd81"/>
<rect x="195.44" y="660.00" width="5.87" height="73.75" fill="#aeccdb"/>
<rect x="201.31" y="658.75" width="5.87" height="75.00" fill="#3274a1"/>
<rect x="207.19" y="655.50" width="5.87" height="78.25" fill="#b3d495"/>
<rect x="213.06" y="655.00" width="5.87" height="78.75" fill="#40923a"/>
<rect x="218.94" y="656.00" width="5.87" height="77.75" fill="#efa6a5"/>
<rect x="224.81" y="663.00" width="5.87" height="70.75" fill="#ca3335"/>
<rect x="230.69" y="660.50" width="5.87" height="73.25" fill="#ebbd81"/>
<path d="M44.18,666.00V667.50M42.41,666.00H45.94M42.41,667.50H45.94" stroke="#525252" stroke-width="0.95" fill="none"/>
<path d="M50.05,659.75V661.25M48.29,659.75H51.81M48.29,661.25H51.81" stroke="#525252" stroke-width="0.95" fill="none"/>
<path d="M55.93,656.50V658.50M54.16,656.50H57.69M54.16,658.50H57.69" stroke="#525252" stroke-width="0.95" fill="none"/>
<path d="M61.80,661.00V663.00M60.04,661.00H63.56M60.04,663.00H63.56" stroke="#525252" stroke-width="0.95" fill="none"/>
<path d="M67.67,663.25V667.50M65.91,663.25H69.44M65.91,667.50H69.44" stroke="#525252" stroke-width="0.95" fill="none"/>
<path d="M73.55,685.50V690.50M71.79,685.50H75.31M71.79,690.50H75.31" stroke="#525252" stroke-width="0.95" fill="none"/>
<path d="M79.42,679.50V687.00M77.66,679.50H81.19M77.66,687.00H81.19" stroke="#525252" stroke-width="0.95" fill="none"/>
<path d="M95.58,672.00V678.00M93.81,672.00H97.34M93.81,678.00H97.34" stroke="#525252" stroke-width="0.95" fill="none"/>
<path d="M101.45,670.00V671.50M99.69,670.00H103.21M99.69,671.50H103.21" stroke="#525252" stroke-width="0.95" fill="none"/>
<path d="M107.33,665.50V668.75M105.56,665.50H109.09M105.56,668.75H109.09" stroke="#525252" stroke-width="0.95" fill="none"/>
<path d="M113.20,661.50V662.50M111.44,661.50H114.96M111.44,662.50H114.96" stroke="#525252" stroke-width="0.95" fill="none"/>
<path d="M119.07,658.50V659.50M117.31,658.50H120.84M117.31,659.50H120.84" stroke="#525252" stroke-width="0.95" fill="none"/>
<path d="M124.95,677.00V682.00M123.19,677.00H126.71M123.19,682.00H126.71" stroke="#525252" stroke-width="0.95" fill="none"/>
<path d="M130.82,673.00V674.50M129.06,673.00H132.59M129.06,674.50H132.59" stroke="#525252" stroke-width="0.95" fill="none"/>
<path d="M146.98,663.75V671.25M145.21,663.75H148.74M145.21,671.25H148.74" stroke="#525252" stroke-width="0.95" fill="none"/>
<path d="M152.85,659.25V662.50M151.09,659.25H154.61M151.09,662.50H154.61" stroke="#525252" stroke-width="0.95" fill="none"/>
<path d="M158.73,660.00V664.25M156.96,660.00H160.49M156.96,664.25H160.49" stroke="#525252" stroke-width="0.95" fill="none"/>
<path d="M164.60,659.50V662.50M162.84,659.50H166.36M162.84,662.50H166.36" stroke="#525252" stroke-width="0.95" fill="none"/>
<path d="M170.47,662.00V664.50M168.71,662.00H172.24M168.71,664.50H172.24" stroke="#525252" stroke-width="0.95" fill="none"/>
<path d="M176.35,661.25V664.25M174.59,661.25H178.11M174.59,664.25H178.11" stroke="#525252" stroke-width="0.95" fill="none"/>
<path d="M182.22,660.50V664.50M180.46,660.50H183.99M180.46,664.50H183.99" stroke="#525252" stroke-width="0.95" fill="none"/>
<path d="M198.38,659.50V660.50M196.61,659.50H200.14M196.61,660.50H200.14" stroke="#525252" stroke-width="0.95" fill="none"/>
<path d="M204.25,658.25V659.25M202.49,658.25H206.01M202.49,659.25H206.01" stroke="#525252" stroke-width="0.95" fill="none"/>
<path d="M210.13,655.00V656.00M208.36,655.00H211.89M208.36,656.00H211.89" stroke="#525252" stroke-width="0.95" fill="none"/>
<path d="M216.00,654.50V655.50M214.24,654.50H217.76M214.24,655.50H217.76" stroke="#525252" stroke-width="0.95" fill="none"/>
<path d="M221.87,655.00V657.50M220.11,655.00H223.64M220.11,657.50H223.64" stroke="#525252" stroke-width="0.95" fill="none"/>
<path d="M227.75,660.50V665.50M225.99,660.50H229.51M225.99,665.50H229.51" stroke="#525252" stroke-width="0.95" fill="none"/>
<path d="M233.62,658.75V662.00M231.86,658.75H235.39M231.86,662.00H235.39" stroke="#525252" stroke-width="0.95" fill="none"/>
<line x1="36.10" y1="650.00" x2="36.10" y2="734.25" stroke="#262626" stroke-width="1.1"/>
<line x1="35.60" y1="733.75" x2="241.70" y2="733.75" stroke="#262626" stroke-width="1.1"/>
<line x1="61.80" y1="733.75" x2="61.80" y2="736.75" stroke="#262626" stroke-width="0.9"/>
<text x="54.74" y="747.75" font-size="10.0" textLength="14.26" lengthAdjust="spacingAndGlyphs" style="font-family:&quot;Liberation Sans&quot;, sans-serif" fill="#1c1c1c" stroke="#1c1c1c" stroke-width="0.22">Sig</text>
<line x1="113.20" y1="733.75" x2="113.20" y2="736.75" stroke="#262626" stroke-width="0.9"/>
<text x="95.77" y="747.75" font-size="10.0" textLength="34.69" lengthAdjust="spacingAndGlyphs" style="font-family:&quot;Liberation Sans&quot;, sans-serif" fill="#1c1c1c" stroke="#1c1c1c" stroke-width="0.22">RNNSig</text>
<line x1="164.60" y1="733.75" x2="164.60" y2="736.75" stroke="#262626" stroke-width="0.9"/>
<text x="145.03" y="747.75" font-size="10.0" textLength="38.96" lengthAdjust="spacingAndGlyphs" style="font-family:&quot;Liberation Sans&quot;, sans-serif" fill="#1c1c1c" stroke="#1c1c1c" stroke-width="0.22">DeepSig</text>
<line x1="216.00" y1="733.75" x2="216.00" y2="736.75" stroke="#262626" stroke-width="0.9"/>
<text x="205.51" y="747.75" font-size="10.0" textLength="20.99" lengthAdjust="spacingAndGlyphs" style="font-family:&quot;Liberation Sans&quot;, sans-serif" fill="#1c1c1c" stroke="#1c1c1c" stroke-width="0.22">RNN</text>
<text x="124.55" y="760.15" font-size="9.8" textLength="28.74" lengthAdjust="spacingAndGlyphs" style="font-family:&quot;Liberation Sans&quot;, sans-serif" fill="#1c1c1c" stroke="#1c1c1c" stroke-width="0.22">model</text>
<line x1="33.10" y1="733.75" x2="36.10" y2="733.75" stroke="#262626" stroke-width="0.9"/>
<text x="15.39" y="737.05" font-size="9.8" textLength="13.98" lengthAdjust="spacingAndGlyphs" style="font-family:&quot;Liberation Sans&quot;, sans-serif" fill="#1c1c1c" stroke="#1c1c1c" stroke-width="0.22">0.0</text>
<line x1="33.10" y1="704.00" x2="36.10" y2="704.00" stroke="#262626" stroke-width="0.9"/>
<text x="15.38" y="707.30" font-size="9.8" textLength="14.14" lengthAdjust="spacingAndGlyphs" style="font-family:&quot;Liberation Sans&quot;, sans-serif" fill="#1c1c1c" stroke="#1c1c1c" stroke-width="0.22">0.2</text>
<line x1="33.10" y1="674.25" x2="36.10" y2="674.25" stroke="#262626" stroke-width="0.9"/>
<text x="15.39" y="677.55" font-size="9.8" textLength="13.87" lengthAdjust="spacingAndGlyphs" style="font-family:&quot;Liberation Sans&quot;, sans-serif" fill="#1c1c1c" stroke="#1c1c1c" stroke-width="0.22">0.4</text>
<g transform="translate(9.67,732.30) rotate(-90)">
<text x="-0.00" y="0" font-size="10.6" textLength="81.33" lengthAdjust="spacingAndGlyphs" style="font-family:&quot;Liberation Sans&quot;, sans-serif" fill="#1c1c1c" stroke="#1c1c1c" stroke-width="0.22">Average Precision</text>
</g>
<text x="251.53" y="662.00" font-size="9.8" textLength="50.07" lengthAdjust="spacingAndGlyphs" style="font-family:&quot;Liberation Sans&quot;, sans-serif" fill="#1c1c1c" stroke="#1c1c1c" stroke-width="0.22">imputation</text>
<rect x="245.50" y="668.80" width="18.75" height="6.20" fill="#aeccdb"/>
<text x="271.22" y="675.45" font-size="9.8" textLength="20.16" lengthAdjust="spacingAndGlyphs" style="font-family:&quot;Liberation Sans&quot;, sans-serif" fill="#1c1c1c" stroke="#1c1c1c" stroke-width="0.22">zero</text>
<rect x="245.50" y="682.20" width="18.75" height="6.20" fill="#3274a1"/>
<text x="270.91" y="688.85" font-size="9.8" textLength="11.23" lengthAdjust="spacingAndGlyphs" style="font-family:&quot;Liberation Sans&quot;, sans-serif" fill="#1c1c1c" stroke="#1c1c1c" stroke-width="0.22">lin</text>
<rect x="245.50" y="695.60" width="18.75" height="6.20" fill="#b3d495"/>
<text x="271.46" y="702.25" font-size="9.8" textLength="6.48" lengthAdjust="spacingAndGlyphs" style="font-family:&quot;Liberation Sans&quot;, sans-serif" fill="#1c1c1c" stroke="#1c1c1c" stroke-width="0.22">ff</text>
<rect x="245.50" y="709.00" width="18.75" height="6.20" fill="#40923a"/>
<text x="271.22" y="715.65" font-size="9.8" textLength="29.92" lengthAdjust="spacingAndGlyphs" style="font-family:&quot;Liberation Sans&quot;, sans-serif" fill="#1c1c1c" stroke="#1c1c1c" stroke-width="0.22">causal</text>
<rect x="245.50" y="722.40" width="18.75" height="6.20" fill="#efa6a5"/>
<text x="270.93" y="729.05" font-size="9.8" textLength="14.47" lengthAdjust="spacingAndGlyphs" style="font-family:&quot;Liberation Sans&quot;, sans-serif" fill="#1c1c1c" stroke="#1c1c1c" stroke-width="0.22">ind</text>
<rect x="245.50" y="735.80" width="18.75" height="6.20" fill="#ca3335"/>
<text x="271.21" y="742.45" font-size="10.4" textLength="12.49" lengthAdjust="spacingAndGlyphs" style="font-family:&quot;Liberation Sans&quot;, sans-serif" fill="#1c1c1c" stroke="#1c1c1c" stroke-width="0.22">GP</text>
<rect x="245.50" y="749.20" width="18.75" height="6.20" fill="#ebbd81"/>
<text x="271.18" y="755.85" font-size="10.4" textLength="37.03" lengthAdjust="spacingAndGlyphs" style="font-family:&quot;Liberation Sans&quot;, sans-serif" fill="#1c1c1c" stroke="#1c1c1c" stroke-width="0.22">GP_PoM</text>
<rect x="378.62" y="703.50" width="5.57" height="27.25" fill="#aeccdb"/>
<rect x="384.20" y="712.50" width="5.57" height="18.25" fill="#3274a1"/>
<rect x="389.77" y="719.50" width="5.57" height="11.25" fill="#b3d495"/>
<rect x="395.34" y="699.00" width="5.57" height="31.75" fill="#40923a"/>
<rect x="400.91" y="697.00" width="5.57" height="33.75" fill="#efa6a5"/>
<rect x="406.48" y="690.00" width="5.57" height="40.75" fill="#ca3335"/>
<rect x="412.05" y="675.00" width="5.57" height="55.75" fill="#ebbd81"/>
<rect x="427.38" y="670.50" width="5.57" height="60.25" fill="#aeccdb"/>
<rect x="432.95" y="661.00" width="5.57" height="69.75" fill="#3274a1"/>
<rect x="438.52" y="668.00" width="5.57" height="62.75" fill="#b3d495"/>
<rect x="444.09" y="682.00" width="5.57" height="48.75" fill="#40923a"/>
<rect x="449.66" y="689.50" width="5.57" height="41.25" fill="#efa6a5"/>
<rect x="455.23" y="701.00" width="5.57" height="29.75" fill="#ca3335"/>
<rect x="460.80" y="675.75" width="5.57" height="55.00" fill="#ebbd81"/>
<rect x="476.12" y="719.20" width="5.57" height="11.55" fill="#aeccdb"/>
<rect x="481.70" y="727.30" width="5.57" height="3.45" fill="#3274a1"/>
<rect x="487.27" y="717.30" width="5.57" height="13.45" fill="#b3d495"/>
<rect x="492.84" y="721.25" width="5.57" height="9.50" fill="#40923a"/>
<rect x="498.41" y="710.10" width="5.57" height="20.65" fill="#efa6a5"/>
<rect x="503.98" y="725.70" width="5.57" height="5.05" fill="#ca3335"/>
<rect x="509.55" y="677.80" width="5.57" height="52.95" fill="#ebbd81"/>
<rect x="524.88" y="651.00" width="5.57" height="79.75" fill="#aeccdb"/>
<rect x="530.45" y="670.40" width="5.57" height="60.35" fill="#3274a1"/>
<rect x="536.02" y="722.50" width="5.57" height="8.25" fill="#b3d495"/>
<rect x="541.59" y="706.60" width="5.57" height="24.15" fill="#40923a"/>
<rect x="547.16" y="716.40" width="5.57" height="14.35" fill="#efa6a5"/>
<rect x="552.73" y="706.60" width="5.57" height="24.15" fill="#ca3335"/>
<rect x="558.30" y="702.00" width="5.57" height="28.75" fill="#ebbd81"/>
<line x1="373.75" y1="647.00" x2="373.75" y2="731.25" stroke="#262626" stroke-width="1.1"/>
<line x1="373.25" y1="730.75" x2="568.75" y2="730.75" stroke="#262626" stroke-width="1.1"/>
<line x1="398.12" y1="730.75" x2="398.12" y2="733.99" stroke="#262626" stroke-width="0.9"/>
<text x="390.50" y="745.87" font-size="10.8" textLength="15.42" lengthAdjust="spacingAndGlyphs" style="font-family:&quot;Liberation Sans&quot;, sans-serif" fill="#1c1c1c" stroke="#1c1c1c" stroke-width="0.22">Sig</text>
<line x1="446.88" y1="730.75" x2="446.88" y2="733.99" stroke="#262626" stroke-width="0.9"/>
<text x="428.04" y="745.87" font-size="10.8" textLength="37.48" lengthAdjust="spacingAndGlyphs" style="font-family:&quot;Liberation Sans&quot;, sans-serif" fill="#1c1c1c" stroke="#1c1c1c" stroke-width="0.22">RNNSig</text>
<line x1="495.62" y1="730.75" x2="495.62" y2="733.99" stroke="#262626" stroke-width="0.9"/>
<text x="474.48" y="745.87" font-size="10.8" textLength="42.09" lengthAdjust="spacingAndGlyphs" style="font-family:&quot;Liberation Sans&quot;, sans-serif" fill="#1c1c1c" stroke="#1c1c1c" stroke-width="0.22">DeepSig</text>
<line x1="544.38" y1="730.75" x2="544.38" y2="733.99" stroke="#262626" stroke-width="0.9"/>
<text x="533.04" y="745.87" font-size="10.8" textLength="22.68" lengthAdjust="spacingAndGlyphs" style="font-family:&quot;Liberation Sans&quot;, sans-serif" fill="#1c1c1c" stroke="#1c1c1c" stroke-width="0.22">RNN</text>
<text x="455.75" y="759.26" font-size="10.584000000000001" textLength="31.05" lengthAdjust="spacingAndGlyphs" style="font-family:&quot;Liberation Sans&quot;, sans-serif" fill="#1c1c1c" stroke="#1c1c1c" stroke-width="0.22">model</text>
<line x1="371.59" y1="727.96" x2="373.75" y2="727.96" stroke="#262626" stroke-width="0.75"/>
<line x1="371.59" y1="725.21" x2="373.75" y2="725.21" stroke="#262626" stroke-width="0.75"/>
<line x1="371.59" y1="722.88" x2="373.75" y2="722.88" stroke="#262626" stroke-width="0.75"/>
<line x1="371.59" y1="720.87" x2="373.75" y2="720.87" stroke="#262626" stroke-width="0.75"/>
<line x1="371.59" y1="719.09" x2="373.75" y2="719.09" stroke="#262626" stroke-width="0.75"/>
<line x1="370.51" y1="717.50" x2="373.75" y2="717.50" stroke="#262626" stroke-width="0.9"/>
<text x="349.27" y="721.00" font-size="10.4" textLength="13.01" lengthAdjust="spacingAndGlyphs" style="font-family:&quot;Liberation Sans&quot;, sans-serif" fill="#1c1c1c" stroke="#1c1c1c" stroke-width="0.25">10</text>
<text x="362.71" y="717.80" font-size="7.4" textLength="3.37" lengthAdjust="spacingAndGlyphs" style="font-family:&quot;Liberation Sans&quot;, sans-serif" fill="#1c1c1c" stroke="#1c1c1c" stroke-width="0.2">4</text>
<line x1="371.59" y1="707.04" x2="373.75" y2="707.04" stroke="#262626" stroke-width="0.75"/>
<line x1="371.59" y1="700.92" x2="373.75" y2="700.92" stroke="#262626" stroke-width="0.75"/>
<line x1="371.59" y1="696.58" x2="373.75" y2="696.58" stroke="#262626" stroke-width="0.75"/>
<line x1="371.59" y1="693.21" x2="373.75" y2="693.21" stroke="#262626" stroke-width="0.75"/>
<line x1="371.59" y1="690.46" x2="373.75" y2="690.46" stroke="#262626" stroke-width="0.75"/>
<line x1="371.59" y1="688.13" x2="373.75" y2="688.13" stroke="#262626" stroke-width="0.75"/>
<line x1="371.59" y1="686.12" x2="373.75" y2="686.12" stroke="#262626" stroke-width="0.75"/>
<line x1="371.59" y1="684.34" x2="373.75" y2="684.34" stroke="#262626" stroke-width="0.75"/>
<line x1="370.51" y1="682.75" x2="373.75" y2="682.75" stroke="#262626" stroke-width="0.9"/>
<text x="349.27" y="686.25" font-size="10.4" textLength="13.01" lengthAdjust="spacingAndGlyphs" style="font-family:&quot;Liberation Sans&quot;, sans-serif" fill="#1c1c1c" stroke="#1c1c1c" stroke-width="0.25">10</text>
<text x="362.57" y="683.05" font-size="7.4" textLength="3.62" lengthAdjust="spacingAndGlyphs" style="font-family:&quot;Liberation Sans&quot;, sans-serif" fill="#1c1c1c" stroke="#1c1c1c" stroke-width="0.2">5</text>
<line x1="371.59" y1="672.29" x2="373.75" y2="672.29" stroke="#262626" stroke-width="0.75"/>
<line x1="371.59" y1="666.17" x2="373.75" y2="666.17" stroke="#262626" stroke-width="0.75"/>
<line x1="371.59" y1="661.83" x2="373.75" y2="661.83" stroke="#262626" stroke-width="0.75"/>
<line x1="371.59" y1="658.46" x2="373.75" y2="658.46" stroke="#262626" stroke-width="0.75"/>
<line x1="371.59" y1="655.71" x2="373.75" y2="655.71" stroke="#262626" stroke-width="0.75"/>
<line x1="371.59" y1="653.38" x2="373.75" y2="653.38" stroke="#262626" stroke-width="0.75"/>
<line x1="371.59" y1="651.37" x2="373.75" y2="651.37" stroke="#262626" stroke-width="0.75"/>
<line x1="371.59" y1="649.59" x2="373.75" y2="649.59" stroke="#262626" stroke-width="0.75"/>
<line x1="370.51" y1="648.00" x2="373.75" y2="648.00" stroke="#262626" stroke-width="0.9"/>
<text x="349.27" y="651.50" font-size="10.4" textLength="13.01" lengthAdjust="spacingAndGlyphs" style="font-family:&quot;Liberation Sans&quot;, sans-serif" fill="#1c1c1c" stroke="#1c1c1c" stroke-width="0.25">10</text>
<text x="362.50" y="648.30" font-size="7.4" textLength="3.70" lengthAdjust="spacingAndGlyphs" style="font-family:&quot;Liberation Sans&quot;, sans-serif" fill="#1c1c1c" stroke="#1c1c1c" stroke-width="0.2">6</text>
<g transform="translate(344.49,743.50) rotate(-90)">
<text x="-0.89" y="0" font-size="10.6" textLength="112.68" lengthAdjust="spacingAndGlyphs" style="font-family:&quot;Liberation Sans&quot;, sans-serif" fill="#1c1c1c" stroke="#1c1c1c" stroke-width="0.22">Number of Parameters</text>
</g>
<text x="579.43" y="649.10" font-size="10.584000000000001" textLength="54.09" lengthAdjust="spacingAndGlyphs" style="font-family:&quot;Liberation Sans&quot;, sans-serif" fill="#1c1c1c" stroke="#1c1c1c" stroke-width="0.22">imputation</text>
<rect x="573.00" y="656.50" width="19.70" height="7.00" fill="#aeccdb"/>
<text x="600.64" y="663.83" font-size="10.584000000000001" textLength="21.78" lengthAdjust="spacingAndGlyphs" style="font-family:&quot;Liberation Sans&quot;, sans-serif" fill="#1c1c1c" stroke="#1c1c1c" stroke-width="0.22">zero</text>
<rect x="573.00" y="670.98" width="19.70" height="7.00" fill="#3274a1"/>
<text x="600.30" y="678.31" font-size="10.584000000000001" textLength="12.15" lengthAdjust="spacingAndGlyphs" style="font-family:&quot;Liberation Sans&quot;, sans-serif" fill="#1c1c1c" stroke="#1c1c1c" stroke-width="0.22">lin</text>
<rect x="573.00" y="685.46" width="19.70" height="7.00" fill="#b3d495"/>
<text x="600.89" y="692.79" font-size="10.584000000000001" textLength="7.01" lengthAdjust="spacingAndGlyphs" style="font-family:&quot;Liberation Sans&quot;, sans-serif" fill="#1c1c1c" stroke="#1c1c1c" stroke-width="0.22">ff</text>
<rect x="573.00" y="699.94" width="19.70" height="7.00" fill="#40923a"/>
<text x="600.64" y="707.27" font-size="10.584000000000001" textLength="32.33" lengthAdjust="spacingAndGlyphs" style="font-family:&quot;Liberation Sans&quot;, sans-serif" fill="#1c1c1c" stroke="#1c1c1c" stroke-width="0.22">causal</text>
<rect x="573.00" y="714.42" width="19.70" height="7.00" fill="#efa6a5"/>
<text x="600.33" y="721.75" font-size="10.584000000000001" textLength="15.65" lengthAdjust="spacingAndGlyphs" style="font-family:&quot;Liberation Sans&quot;, sans-serif" fill="#1c1c1c" stroke="#1c1c1c" stroke-width="0.22">ind</text>
<rect x="573.00" y="728.90" width="19.70" height="7.00" fill="#ca3335"/>
<text x="600.62" y="736.23" font-size="11.232000000000001" textLength="13.50" lengthAdjust="spacingAndGlyphs" style="font-family:&quot;Liberation Sans&quot;, sans-serif" fill="#1c1c1c" stroke="#1c1c1c" stroke-width="0.22">GP</text>
<rect x="573.00" y="743.38" width="19.70" height="7.00" fill="#ebbd81"/>
<text x="600.59" y="750.71" font-size="11.232000000000001" textLength="40.01" lengthAdjust="spacingAndGlyphs" style="font-family:&quot;Liberation Sans&quot;, sans-serif" fill="#1c1c1c" stroke="#1c1c1c" stroke-width="0.22">GP_PoM</text>
<text x="291.34" y="144.50" font-size="11.9" textLength="56.78" lengthAdjust="spacingAndGlyphs" style="font-family:&quot;Liberation Serif&quot;, serif" fill="#1a1a1a" stroke="#1a1a1a" stroke-width="0.0">(a) LSST-R</text>
<text x="292.83" y="299.30" font-size="11.9" textLength="58.36" lengthAdjust="spacingAndGlyphs" style="font-family:&quot;Liberation Serif&quot;, serif" fill="#1a1a1a" stroke="#1a1a1a" stroke-width="0.0">(b) LSST-L</text>
<text x="280.01" y="466.25" font-size="11.9" textLength="82.74" lengthAdjust="spacingAndGlyphs" style="font-family:&quot;Liberation Serif&quot;, serif" fill="#1a1a1a" stroke="#1a1a1a" stroke-width="0.0">(c) PenDigits-R</text>
<text x="279.64" y="620.25" font-size="11.9" textLength="84.86" lengthAdjust="spacingAndGlyphs" style="font-family:&quot;Liberation Serif&quot;, serif" fill="#1a1a1a" stroke="#1a1a1a" stroke-width="0.0">(d) PenDigits-L</text>
<text x="274.01" y="786.90" font-size="11.9" textLength="95.81" lengthAdjust="spacingAndGlyphs" style="font-family:&quot;Liberation Serif&quot;, serif" fill="#1a1a1a" stroke="#1a1a1a" stroke-width="0.0">(e) Physionet2012</text>
</svg></body></html>
